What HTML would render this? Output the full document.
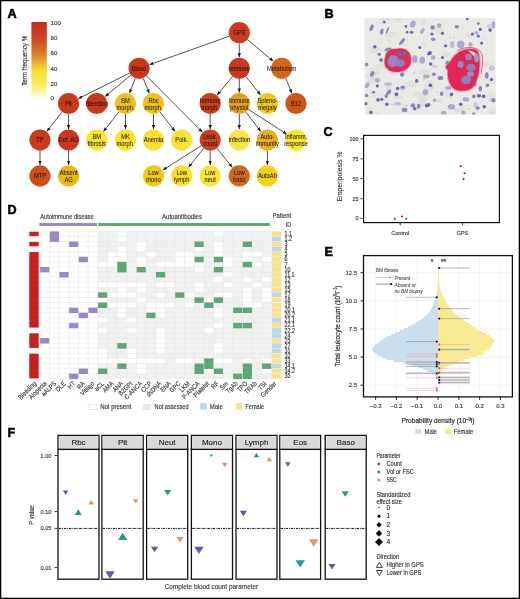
<!DOCTYPE html>
<html><head><meta charset="utf-8"><title>Figure</title>
<style>
html,body{margin:0;padding:0;background:#fff;}
body{width:520px;height:599px;overflow:hidden;}
svg{display:block;will-change:transform;font-family:"Liberation Sans", sans-serif;}
</style></head><body>
<svg width="520" height="599" viewBox="0 0 520 599">
<rect x="0" y="0" width="520" height="599" fill="#fff"/>
<text transform="translate(7.60 17.90) scale(1.0110 1)" font-size="12.6" text-anchor="start" fill="#000" font-weight="bold" stroke="#000" stroke-width="0.55">A</text>
<defs>
<linearGradient id="cb" x1="0" y1="0" x2="0" y2="1">
<stop offset="0" stop-color="#c52e1c"/>
<stop offset="0.2" stop-color="#cb4420"/>
<stop offset="0.4" stop-color="#d97a26"/>
<stop offset="0.54" stop-color="#ebbb2c"/>
<stop offset="0.63" stop-color="#f5e036"/>
<stop offset="0.8" stop-color="#f8ec5a"/>
<stop offset="1" stop-color="#fffef8"/>
</linearGradient>
<marker id="ah" viewBox="0 0 10 10" refX="10" refY="5" markerWidth="4.2" markerHeight="4.2" markerUnits="userSpaceOnUse" orient="auto"><path d="M0,1 L10,5 L0,9 z" fill="#1a1a1a"/></marker>
</defs>
<rect x="31.4" y="22" width="15.4" height="77.4" fill="url(#cb)"/>
<text transform="translate(50.60 24.70)" font-size="6.2" text-anchor="start" fill="#333" font-weight="normal" stroke="#333" stroke-width="0.13">100</text>
<text transform="translate(50.60 40.20)" font-size="6.2" text-anchor="start" fill="#333" font-weight="normal" stroke="#333" stroke-width="0.13">80</text>
<text transform="translate(50.60 55.20)" font-size="6.2" text-anchor="start" fill="#333" font-weight="normal" stroke="#333" stroke-width="0.13">60</text>
<text transform="translate(50.60 70.70)" font-size="6.2" text-anchor="start" fill="#333" font-weight="normal" stroke="#333" stroke-width="0.13">40</text>
<text transform="translate(50.60 86.20)" font-size="6.2" text-anchor="start" fill="#333" font-weight="normal" stroke="#333" stroke-width="0.13">20</text>
<text transform="translate(50.60 99.90)" font-size="6.2" text-anchor="start" fill="#333" font-weight="normal" stroke="#333" stroke-width="0.13">0</text>
<text transform="translate(26.90 60.80) rotate(-90) scale(0.8385 1)" font-size="7.4" text-anchor="middle" fill="#2a2a2a" font-weight="normal" stroke="#2a2a2a" stroke-width="0.13">Term frequency %</text>
<line x1="229.31" y1="36.25" x2="149.37" y2="64.65" stroke="#1a1a1a" stroke-width="0.75" marker-end="url(#ah)"/>
<line x1="239.30" y1="43.30" x2="239.30" y2="57.40" stroke="#1a1a1a" stroke-width="0.75" marker-end="url(#ah)"/>
<line x1="247.42" y1="39.52" x2="273.35" y2="61.29" stroke="#1a1a1a" stroke-width="0.75" marker-end="url(#ah)"/>
<line x1="129.62" y1="73.04" x2="78.35" y2="98.63" stroke="#1a1a1a" stroke-width="0.75" marker-end="url(#ah)"/>
<line x1="130.94" y1="75.07" x2="105.09" y2="96.54" stroke="#1a1a1a" stroke-width="0.75" marker-end="url(#ah)"/>
<line x1="135.28" y1="78.19" x2="129.43" y2="93.33" stroke="#1a1a1a" stroke-width="0.75" marker-end="url(#ah)"/>
<line x1="143.11" y1="78.11" x2="149.37" y2="93.41" stroke="#1a1a1a" stroke-width="0.75" marker-end="url(#ah)"/>
<line x1="146.56" y1="75.83" x2="202.53" y2="132.35" stroke="#1a1a1a" stroke-width="0.75" marker-end="url(#ah)"/>
<line x1="232.55" y1="76.47" x2="217.15" y2="95.10" stroke="#1a1a1a" stroke-width="0.75" marker-end="url(#ah)"/>
<line x1="239.30" y1="78.90" x2="239.30" y2="92.60" stroke="#1a1a1a" stroke-width="0.75" marker-end="url(#ah)"/>
<line x1="245.91" y1="76.58" x2="260.60" y2="94.98" stroke="#1a1a1a" stroke-width="0.75" marker-end="url(#ah)"/>
<line x1="285.69" y1="78.12" x2="291.90" y2="93.40" stroke="#1a1a1a" stroke-width="0.75" marker-end="url(#ah)"/>
<line x1="62.07" y1="111.85" x2="46.71" y2="131.51" stroke="#1a1a1a" stroke-width="0.75" marker-end="url(#ah)"/>
<line x1="68.60" y1="114.10" x2="68.60" y2="129.20" stroke="#1a1a1a" stroke-width="0.75" marker-end="url(#ah)"/>
<line x1="118.95" y1="111.83" x2="103.44" y2="131.53" stroke="#1a1a1a" stroke-width="0.75" marker-end="url(#ah)"/>
<line x1="125.50" y1="114.10" x2="125.50" y2="129.20" stroke="#1a1a1a" stroke-width="0.75" marker-end="url(#ah)"/>
<line x1="153.50" y1="114.10" x2="153.50" y2="129.20" stroke="#1a1a1a" stroke-width="0.75" marker-end="url(#ah)"/>
<line x1="159.97" y1="111.90" x2="175.05" y2="131.47" stroke="#1a1a1a" stroke-width="0.75" marker-end="url(#ah)"/>
<line x1="210.20" y1="114.10" x2="210.20" y2="129.20" stroke="#1a1a1a" stroke-width="0.75" marker-end="url(#ah)"/>
<line x1="239.30" y1="114.10" x2="239.30" y2="129.20" stroke="#1a1a1a" stroke-width="0.75" marker-end="url(#ah)"/>
<line x1="245.76" y1="111.91" x2="260.76" y2="131.45" stroke="#1a1a1a" stroke-width="0.75" marker-end="url(#ah)"/>
<line x1="248.21" y1="109.25" x2="286.84" y2="134.19" stroke="#1a1a1a" stroke-width="0.75" marker-end="url(#ah)"/>
<line x1="40.00" y1="150.70" x2="40.00" y2="165.00" stroke="#1a1a1a" stroke-width="0.75" marker-end="url(#ah)"/>
<line x1="68.60" y1="150.70" x2="68.60" y2="165.00" stroke="#1a1a1a" stroke-width="0.75" marker-end="url(#ah)"/>
<line x1="201.24" y1="145.76" x2="162.72" y2="170.08" stroke="#1a1a1a" stroke-width="0.75" marker-end="url(#ah)"/>
<line x1="203.60" y1="148.39" x2="188.49" y2="167.37" stroke="#1a1a1a" stroke-width="0.75" marker-end="url(#ah)"/>
<line x1="210.20" y1="150.70" x2="210.20" y2="165.00" stroke="#1a1a1a" stroke-width="0.75" marker-end="url(#ah)"/>
<line x1="216.89" y1="148.33" x2="232.42" y2="167.44" stroke="#1a1a1a" stroke-width="0.75" marker-end="url(#ah)"/>
<line x1="267.40" y1="150.70" x2="267.40" y2="165.00" stroke="#1a1a1a" stroke-width="0.75" marker-end="url(#ah)"/>
<circle cx="239.3" cy="32.7" r="10.6" fill="#cc3a1f"/>
<text transform="translate(239.30 35.00) scale(0.9000 1)" font-size="6.4" text-anchor="middle" fill="#1e130c" font-weight="normal" stroke="#1e130c" stroke-width="0.04">GPS</text>
<circle cx="139.1" cy="68.3" r="10.6" fill="#c9381c"/>
<text transform="translate(139.10 70.60) scale(0.9000 1)" font-size="6.4" text-anchor="middle" fill="#1e130c" font-weight="normal" stroke="#1e130c" stroke-width="0.04">Blood</text>
<circle cx="239.3" cy="68.3" r="10.6" fill="#c9391c"/>
<text transform="translate(239.30 70.60) scale(0.9000 1)" font-size="6.4" text-anchor="middle" fill="#1e130c" font-weight="normal" stroke="#1e130c" stroke-width="0.04">Immune</text>
<circle cx="281.7" cy="68.3" r="10.6" fill="#d8641a"/>
<text transform="translate(281.70 70.60) scale(0.9000 1)" font-size="6.4" text-anchor="middle" fill="#1e130c" font-weight="normal" stroke="#1e130c" stroke-width="0.04">Metabolism</text>
<circle cx="68.6" cy="103.5" r="10.6" fill="#c9381c"/>
<text transform="translate(68.60 105.80) scale(0.9000 1)" font-size="6.4" text-anchor="middle" fill="#1e130c" font-weight="normal" stroke="#1e130c" stroke-width="0.04">Plt</text>
<circle cx="96.7" cy="103.5" r="10.6" fill="#c9381c"/>
<text transform="translate(96.70 105.80) scale(0.9000 1)" font-size="6.4" text-anchor="middle" fill="#1e130c" font-weight="normal" stroke="#1e130c" stroke-width="0.04">Bleeding</text>
<circle cx="125.5" cy="103.5" r="10.6" fill="#ecc11b"/>
<text transform="translate(125.50 102.70) scale(0.9000 1)" font-size="6.4" text-anchor="middle" fill="#1e130c" font-weight="normal" stroke="#1e130c" stroke-width="0.04">BM</text>
<text transform="translate(125.50 109.70) scale(0.9000 1)" font-size="6.4" text-anchor="middle" fill="#1e130c" font-weight="normal" stroke="#1e130c" stroke-width="0.04">morph.</text>
<circle cx="153.5" cy="103.5" r="10.6" fill="#ecc11b"/>
<text transform="translate(153.50 102.70) scale(0.9000 1)" font-size="6.4" text-anchor="middle" fill="#1e130c" font-weight="normal" stroke="#1e130c" stroke-width="0.04">Rbc</text>
<text transform="translate(153.50 109.70) scale(0.9000 1)" font-size="6.4" text-anchor="middle" fill="#1e130c" font-weight="normal" stroke="#1e130c" stroke-width="0.04">morph.</text>
<circle cx="210.2" cy="103.5" r="10.6" fill="#c9401b"/>
<text transform="translate(210.20 102.70) scale(0.9000 1)" font-size="6.4" text-anchor="middle" fill="#1e130c" font-weight="normal" stroke="#1e130c" stroke-width="0.04">Immune</text>
<text transform="translate(210.20 109.70) scale(0.9000 1)" font-size="6.4" text-anchor="middle" fill="#1e130c" font-weight="normal" stroke="#1e130c" stroke-width="0.04">morph.</text>
<circle cx="239.3" cy="103.5" r="10.6" fill="#e3a11d"/>
<text transform="translate(239.30 102.70) scale(0.9000 1)" font-size="6.4" text-anchor="middle" fill="#1e130c" font-weight="normal" stroke="#1e130c" stroke-width="0.04">Immune</text>
<text transform="translate(239.30 109.70) scale(0.9000 1)" font-size="6.4" text-anchor="middle" fill="#1e130c" font-weight="normal" stroke="#1e130c" stroke-width="0.04">physiol</text>
<circle cx="267.4" cy="103.5" r="10.6" fill="#f0c91b"/>
<text transform="translate(267.40 102.70) scale(0.9000 1)" font-size="6.4" text-anchor="middle" fill="#1e130c" font-weight="normal" stroke="#1e130c" stroke-width="0.04">Spleno-</text>
<text transform="translate(267.40 109.70) scale(0.9000 1)" font-size="6.4" text-anchor="middle" fill="#1e130c" font-weight="normal" stroke="#1e130c" stroke-width="0.04">megaly</text>
<circle cx="296" cy="103.5" r="10.6" fill="#cf5419"/>
<text transform="translate(296.00 105.80) scale(0.9000 1)" font-size="6.4" text-anchor="middle" fill="#1e130c" font-weight="normal" stroke="#1e130c" stroke-width="0.04">B12</text>
<circle cx="40" cy="140.1" r="10.6" fill="#c9381c"/>
<text transform="translate(40.00 142.40) scale(0.9000 1)" font-size="6.4" text-anchor="middle" fill="#1e130c" font-weight="normal" stroke="#1e130c" stroke-width="0.04">TP</text>
<circle cx="68.6" cy="140.1" r="10.6" fill="#c9381c"/>
<text transform="translate(68.60 142.40) scale(0.9000 1)" font-size="6.4" text-anchor="middle" fill="#1e130c" font-weight="normal" stroke="#1e130c" stroke-width="0.04">Def. AG</text>
<circle cx="96.7" cy="140.1" r="10.6" fill="#f8e52b"/>
<text transform="translate(96.70 139.30) scale(0.9000 1)" font-size="6.4" text-anchor="middle" fill="#1e130c" font-weight="normal" stroke="#1e130c" stroke-width="0.04">BM</text>
<text transform="translate(96.70 146.30) scale(0.9000 1)" font-size="6.4" text-anchor="middle" fill="#1e130c" font-weight="normal" stroke="#1e130c" stroke-width="0.04">fibrosis</text>
<circle cx="125.5" cy="140.1" r="10.6" fill="#f8e52b"/>
<text transform="translate(125.50 139.30) scale(0.9000 1)" font-size="6.4" text-anchor="middle" fill="#1e130c" font-weight="normal" stroke="#1e130c" stroke-width="0.04">MK</text>
<text transform="translate(125.50 146.30) scale(0.9000 1)" font-size="6.4" text-anchor="middle" fill="#1e130c" font-weight="normal" stroke="#1e130c" stroke-width="0.04">morph.</text>
<circle cx="153.5" cy="140.1" r="10.6" fill="#f6e12b"/>
<text transform="translate(153.50 142.40) scale(0.9000 1)" font-size="6.4" text-anchor="middle" fill="#1e130c" font-weight="normal" stroke="#1e130c" stroke-width="0.04">Anemia</text>
<circle cx="181.7" cy="140.1" r="10.6" fill="#f8e42f"/>
<text transform="translate(181.70 142.40) scale(0.9000 1)" font-size="6.4" text-anchor="middle" fill="#1e130c" font-weight="normal" stroke="#1e130c" stroke-width="0.04">Poik.</text>
<circle cx="210.2" cy="140.1" r="10.6" fill="#c9421c"/>
<text transform="translate(210.20 139.30) scale(0.9000 1)" font-size="6.4" text-anchor="middle" fill="#1e130c" font-weight="normal" stroke="#1e130c" stroke-width="0.04">Leuk.</text>
<text transform="translate(210.20 146.30) scale(0.9000 1)" font-size="6.4" text-anchor="middle" fill="#1e130c" font-weight="normal" stroke="#1e130c" stroke-width="0.04">count</text>
<circle cx="239.3" cy="140.1" r="10.6" fill="#f6e44a"/>
<text transform="translate(239.30 142.40) scale(0.9000 1)" font-size="6.4" text-anchor="middle" fill="#1e130c" font-weight="normal" stroke="#1e130c" stroke-width="0.04">Infection</text>
<circle cx="267.4" cy="140.1" r="10.6" fill="#e8b121"/>
<text transform="translate(267.40 139.30) scale(0.9000 1)" font-size="6.4" text-anchor="middle" fill="#1e130c" font-weight="normal" stroke="#1e130c" stroke-width="0.04">Auto-</text>
<text transform="translate(267.40 146.30) scale(0.9000 1)" font-size="6.4" text-anchor="middle" fill="#1e130c" font-weight="normal" stroke="#1e130c" stroke-width="0.04">immunity</text>
<circle cx="296" cy="140.1" r="10.6" fill="#f8e82b"/>
<text transform="translate(296.00 139.30) scale(0.9000 1)" font-size="6.4" text-anchor="middle" fill="#1e130c" font-weight="normal" stroke="#1e130c" stroke-width="0.04">Inflamm.</text>
<text transform="translate(296.00 146.30) scale(0.9000 1)" font-size="6.4" text-anchor="middle" fill="#1e130c" font-weight="normal" stroke="#1e130c" stroke-width="0.04">response</text>
<circle cx="40" cy="175.9" r="10.6" fill="#cd4d1c"/>
<text transform="translate(40.00 178.20) scale(0.9000 1)" font-size="6.4" text-anchor="middle" fill="#1e130c" font-weight="normal" stroke="#1e130c" stroke-width="0.04">MTP</text>
<circle cx="68.6" cy="175.9" r="10.6" fill="#eab919"/>
<text transform="translate(68.60 175.10) scale(0.9000 1)" font-size="6.4" text-anchor="middle" fill="#1e130c" font-weight="normal" stroke="#1e130c" stroke-width="0.04">Absent</text>
<text transform="translate(68.60 182.10) scale(0.9000 1)" font-size="6.4" text-anchor="middle" fill="#1e130c" font-weight="normal" stroke="#1e130c" stroke-width="0.04">AG</text>
<circle cx="153.5" cy="175.9" r="10.6" fill="#f0c817"/>
<text transform="translate(153.50 175.10) scale(0.9000 1)" font-size="6.4" text-anchor="middle" fill="#1e130c" font-weight="normal" stroke="#1e130c" stroke-width="0.04">Low</text>
<text transform="translate(153.50 182.10) scale(0.9000 1)" font-size="6.4" text-anchor="middle" fill="#1e130c" font-weight="normal" stroke="#1e130c" stroke-width="0.04">mono</text>
<circle cx="181.7" cy="175.9" r="10.6" fill="#f8e22b"/>
<text transform="translate(181.70 175.10) scale(0.9000 1)" font-size="6.4" text-anchor="middle" fill="#1e130c" font-weight="normal" stroke="#1e130c" stroke-width="0.04">Low</text>
<text transform="translate(181.70 182.10) scale(0.9000 1)" font-size="6.4" text-anchor="middle" fill="#1e130c" font-weight="normal" stroke="#1e130c" stroke-width="0.04">lymph</text>
<circle cx="210.2" cy="175.9" r="10.6" fill="#f8e439"/>
<text transform="translate(210.20 175.10) scale(0.9000 1)" font-size="6.4" text-anchor="middle" fill="#1e130c" font-weight="normal" stroke="#1e130c" stroke-width="0.04">Low</text>
<text transform="translate(210.20 182.10) scale(0.9000 1)" font-size="6.4" text-anchor="middle" fill="#1e130c" font-weight="normal" stroke="#1e130c" stroke-width="0.04">neut</text>
<circle cx="239.3" cy="175.9" r="10.6" fill="#cf6a1b"/>
<text transform="translate(239.30 175.10) scale(0.9000 1)" font-size="6.4" text-anchor="middle" fill="#1e130c" font-weight="normal" stroke="#1e130c" stroke-width="0.04">Low</text>
<text transform="translate(239.30 182.10) scale(0.9000 1)" font-size="6.4" text-anchor="middle" fill="#1e130c" font-weight="normal" stroke="#1e130c" stroke-width="0.04">baso</text>
<circle cx="267.4" cy="175.9" r="10.6" fill="#f3d21b"/>
<text transform="translate(267.40 178.20) scale(0.9000 1)" font-size="6.4" text-anchor="middle" fill="#1e130c" font-weight="normal" stroke="#1e130c" stroke-width="0.04">AutoAb</text>
<text transform="translate(324.40 18.10)" font-size="12.6" text-anchor="start" fill="#000" font-weight="bold" stroke="#000" stroke-width="0.55">B</text>
<clipPath id="bclip"><rect x="364.5" y="18" width="131.3" height="96.5"/></clipPath>
<filter id="bblur" x="-5%" y="-5%" width="110%" height="110%"><feGaussianBlur stdDeviation="0.5"/></filter>
<g clip-path="url(#bclip)"><g filter="url(#bblur)">
<rect x="362.5" y="16" width="135.3" height="100.5" fill="#eae9e5"/>
<ellipse cx="423.9" cy="72.0" rx="6.6" ry="2.4" fill="#dcd9d3" opacity="0.5"/>
<ellipse cx="431.2" cy="74.7" rx="2.9" ry="2.5" fill="#dcd9d3" opacity="0.5"/>
<ellipse cx="447.2" cy="94.5" rx="2.5" ry="1.9" fill="#dcd9d3" opacity="0.5"/>
<ellipse cx="376.4" cy="96.1" rx="5.5" ry="1.1" fill="#dcd9d3" opacity="0.5"/>
<ellipse cx="493.5" cy="111.1" rx="5.3" ry="2.8" fill="#dcd9d3" opacity="0.5"/>
<ellipse cx="385.2" cy="19.4" rx="4.6" ry="1.2" fill="#dcd9d3" opacity="0.5"/>
<ellipse cx="389.5" cy="41.3" rx="2.2" ry="2.4" fill="#dcd9d3" opacity="0.5"/>
<ellipse cx="422.3" cy="99.3" rx="4.6" ry="2.9" fill="#dcd9d3" opacity="0.5"/>
<ellipse cx="430.1" cy="81.9" rx="4.3" ry="1.8" fill="#dcd9d3" opacity="0.5"/>
<ellipse cx="495.5" cy="114.1" rx="6.2" ry="3.1" fill="#dcd9d3" opacity="0.5"/>
<ellipse cx="405.9" cy="40.2" rx="3.4" ry="1.2" fill="#dcd9d3" opacity="0.5"/>
<ellipse cx="465.1" cy="56.6" rx="6.2" ry="2.2" fill="#dcd9d3" opacity="0.5"/>
<ellipse cx="490.3" cy="99.8" rx="2.0" ry="1.6" fill="#dcd9d3" opacity="0.5"/>
<ellipse cx="484.0" cy="63.4" rx="6.9" ry="2.2" fill="#dcd9d3" opacity="0.5"/>
<ellipse cx="374.1" cy="78.7" rx="5.9" ry="1.8" fill="#dcd9d3" opacity="0.5"/>
<ellipse cx="375.9" cy="50.1" rx="6.8" ry="3.3" fill="#dcd9d3" opacity="0.5"/>
<ellipse cx="380.0" cy="41.8" rx="2.5" ry="1.2" fill="#dcd9d3" opacity="0.5"/>
<ellipse cx="469.1" cy="35.1" rx="4.8" ry="2.3" fill="#dcd9d3" opacity="0.5"/>
<ellipse cx="389.5" cy="88.6" rx="2.7" ry="2.9" fill="#dcd9d3" opacity="0.5"/>
<ellipse cx="379.8" cy="58.6" rx="3.1" ry="1.8" fill="#dcd9d3" opacity="0.5"/>
<ellipse cx="492.0" cy="95.5" rx="3.5" ry="3.7" fill="#dcd9d3" opacity="0.5"/>
<ellipse cx="392.2" cy="56.0" rx="6.3" ry="2.9" fill="#dcd9d3" opacity="0.5"/>
<ellipse cx="377.7" cy="113.5" rx="3.1" ry="1.8" fill="#dcd9d3" opacity="0.5"/>
<ellipse cx="466.0" cy="49.7" rx="3.5" ry="1.2" fill="#dcd9d3" opacity="0.5"/>
<ellipse cx="376.3" cy="74.2" rx="3.2" ry="2.8" fill="#dcd9d3" opacity="0.5"/>
<ellipse cx="413.3" cy="61.7" rx="6.8" ry="2.5" fill="#dcd9d3" opacity="0.5"/>
<ellipse cx="439.9" cy="101.6" rx="2.9" ry="1.5" fill="#dcd9d3" opacity="0.5"/>
<ellipse cx="483.8" cy="96.9" rx="3.2" ry="1.6" fill="#dcd9d3" opacity="0.5"/>
<ellipse cx="461.6" cy="108.7" rx="3.0" ry="3.9" fill="#dcd9d3" opacity="0.5"/>
<ellipse cx="480.3" cy="76.2" rx="4.1" ry="1.3" fill="#dcd9d3" opacity="0.5"/>
<ellipse cx="369.6" cy="110.9" rx="3.2" ry="3.1" fill="#dcd9d3" opacity="0.5"/>
<ellipse cx="398.2" cy="97.5" rx="5.0" ry="1.9" fill="#dcd9d3" opacity="0.5"/>
<ellipse cx="387.5" cy="87.5" rx="2.3" ry="1.7" fill="#dcd9d3" opacity="0.5"/>
<ellipse cx="437.9" cy="100.3" rx="5.1" ry="1.8" fill="#dcd9d3" opacity="0.5"/>
<ellipse cx="484.9" cy="37.7" rx="2.1" ry="1.8" fill="#dcd9d3" opacity="0.5"/>
<ellipse cx="423.0" cy="23.8" rx="2.9" ry="2.1" fill="#dcd9d3" opacity="0.5"/>
<ellipse cx="439.6" cy="30.7" rx="3.8" ry="3.7" fill="#dcd9d3" opacity="0.5"/>
<ellipse cx="493.2" cy="81.4" rx="5.5" ry="2.8" fill="#dcd9d3" opacity="0.5"/>
<ellipse cx="382.9" cy="21.4" rx="2.1" ry="3.7" fill="#dcd9d3" opacity="0.5"/>
<ellipse cx="456.5" cy="110.9" rx="2.1" ry="2.9" fill="#dcd9d3" opacity="0.5"/>
<ellipse cx="427.8" cy="88.5" rx="3.6" ry="4.0" fill="#dcd9d3" opacity="0.5"/>
<ellipse cx="374.4" cy="70.7" rx="5.7" ry="3.7" fill="#dcd9d3" opacity="0.5"/>
<ellipse cx="461.3" cy="85.9" rx="6.0" ry="3.7" fill="#dcd9d3" opacity="0.5"/>
<ellipse cx="410.7" cy="84.1" rx="6.5" ry="3.6" fill="#dcd9d3" opacity="0.5"/>
<ellipse cx="419.3" cy="94.3" rx="6.3" ry="2.7" fill="#dcd9d3" opacity="0.5"/>
<ellipse cx="446.6" cy="54.9" rx="4.9" ry="2.8" fill="#dcd9d3" opacity="0.5"/>
<ellipse cx="375.0" cy="79.7" rx="7.0" ry="3.6" fill="#dcd9d3" opacity="0.5"/>
<ellipse cx="460.1" cy="55.5" rx="5.7" ry="2.7" fill="#dcd9d3" opacity="0.5"/>
<ellipse cx="422.3" cy="98.9" rx="2.4" ry="3.3" fill="#dcd9d3" opacity="0.5"/>
<ellipse cx="368.4" cy="76.0" rx="4.4" ry="1.7" fill="#dcd9d3" opacity="0.5"/>
<ellipse cx="456.2" cy="66.0" rx="5.1" ry="3.8" fill="#dcd9d3" opacity="0.5"/>
<ellipse cx="398.1" cy="19.1" rx="3.5" ry="3.0" fill="#dcd9d3" opacity="0.5"/>
<ellipse cx="391.1" cy="34.4" rx="6.5" ry="3.0" fill="#dcd9d3" opacity="0.5"/>
<ellipse cx="422.5" cy="104.1" rx="3.6" ry="3.0" fill="#dcd9d3" opacity="0.5"/>
<ellipse cx="390.6" cy="59.6" rx="6.0" ry="3.7" fill="#dcd9d3" opacity="0.5"/>
<ellipse cx="480.1" cy="55.1" rx="4.9" ry="1.9" fill="#dcd9d3" opacity="0.5"/>
<ellipse cx="382.4" cy="65.9" rx="6.2" ry="3.5" fill="#dcd9d3" opacity="0.5"/>
<ellipse cx="457.9" cy="109.7" rx="3.4" ry="1.5" fill="#dcd9d3" opacity="0.5"/>
<ellipse cx="423.7" cy="44.6" rx="3.1" ry="2.2" fill="#dcd9d3" opacity="0.5"/>
<ellipse cx="446.7" cy="65.7" rx="3.6" ry="3.5" fill="#dcd9d3" opacity="0.5"/>
<circle cx="493.4" cy="61.7" r="0.6" fill="#c9b995" opacity="0.55"/>
<circle cx="368.6" cy="102.2" r="0.5" fill="#c9b995" opacity="0.55"/>
<circle cx="457.5" cy="73.1" r="0.7" fill="#c9b995" opacity="0.55"/>
<circle cx="468.4" cy="19.8" r="0.6" fill="#c9b995" opacity="0.55"/>
<circle cx="424.2" cy="20.4" r="1.2" fill="#c9b995" opacity="0.55"/>
<circle cx="395.7" cy="31.6" r="0.5" fill="#c9b995" opacity="0.55"/>
<circle cx="447.1" cy="61.1" r="1.0" fill="#c9b995" opacity="0.55"/>
<circle cx="450.5" cy="95.9" r="1.3" fill="#c9b995" opacity="0.55"/>
<circle cx="454.4" cy="37.2" r="0.9" fill="#c9b995" opacity="0.55"/>
<circle cx="388.0" cy="19.0" r="0.9" fill="#c9b995" opacity="0.55"/>
<circle cx="458.3" cy="35.3" r="0.7" fill="#c9b995" opacity="0.55"/>
<circle cx="409.9" cy="85.3" r="0.9" fill="#c9b995" opacity="0.55"/>
<circle cx="445.2" cy="91.0" r="0.8" fill="#c9b995" opacity="0.55"/>
<circle cx="468.5" cy="105.5" r="0.6" fill="#c9b995" opacity="0.55"/>
<circle cx="487.0" cy="87.7" r="0.6" fill="#c9b995" opacity="0.55"/>
<circle cx="424.0" cy="78.4" r="1.2" fill="#c9b995" opacity="0.55"/>
<circle cx="414.0" cy="72.9" r="1.2" fill="#c9b995" opacity="0.55"/>
<circle cx="469.1" cy="109.1" r="0.9" fill="#c9b995" opacity="0.55"/>
<circle cx="450.0" cy="37.8" r="1.1" fill="#c9b995" opacity="0.55"/>
<circle cx="471.9" cy="79.9" r="1.1" fill="#c9b995" opacity="0.55"/>
<circle cx="392.5" cy="104.8" r="1.3" fill="#c9b995" opacity="0.55"/>
<circle cx="492.8" cy="69.8" r="1.1" fill="#c9b995" opacity="0.55"/>
<circle cx="406.6" cy="105.8" r="1.2" fill="#c9b995" opacity="0.55"/>
<circle cx="410.3" cy="26.0" r="0.9" fill="#c9b995" opacity="0.55"/>
<circle cx="436.8" cy="92.1" r="0.9" fill="#c9b995" opacity="0.55"/>
<circle cx="368.2" cy="96.1" r="0.6" fill="#c9b995" opacity="0.55"/>
<circle cx="469.5" cy="34.7" r="0.8" fill="#c9b995" opacity="0.55"/>
<circle cx="468.0" cy="31.6" r="0.6" fill="#c9b995" opacity="0.55"/>
<circle cx="432.3" cy="87.8" r="1.2" fill="#c9b995" opacity="0.55"/>
<circle cx="455.0" cy="109.3" r="0.9" fill="#c9b995" opacity="0.55"/>
<ellipse cx="489.1" cy="26.3" rx="2.4" ry="2.3" fill="#c2c2da" opacity="0.7"/>
<ellipse cx="402.6" cy="88.3" rx="3.3" ry="2.3" fill="#c2c2da" opacity="0.7"/>
<ellipse cx="475.5" cy="104.9" rx="2.4" ry="2.8" fill="#c2c2da" opacity="0.7"/>
<ellipse cx="491.7" cy="68.6" rx="3.1" ry="1.8" fill="#c2c2da" opacity="0.7"/>
<ellipse cx="434.9" cy="66.6" rx="3.2" ry="1.5" fill="#c2c2da" opacity="0.7"/>
<ellipse cx="491.8" cy="67.8" rx="2.8" ry="2.7" fill="#c2c2da" opacity="0.7"/>
<ellipse cx="371.6" cy="27.8" rx="1.62" ry="3.60" fill="#8080b9" opacity="0.92" transform="rotate(20 371.6 27.8)"/>
<ellipse cx="384.3" cy="22.1" rx="1.35" ry="1.35" fill="#6262a6" opacity="0.92"/>
<ellipse cx="381.8" cy="31.6" rx="1.62" ry="3.15" fill="#8080b9" opacity="0.92" transform="rotate(10 381.8 31.6)"/>
<ellipse cx="387.5" cy="30.3" rx="0.90" ry="3.60" fill="#8080b9" opacity="0.92" transform="rotate(20 387.5 30.3)"/>
<ellipse cx="405.9" cy="26.5" rx="1.35" ry="1.44" fill="#6262a6" opacity="0.92"/>
<ellipse cx="407.1" cy="32.2" rx="1.35" ry="1.35" fill="#6262a6" opacity="0.92"/>
<ellipse cx="411.6" cy="32.2" rx="1.80" ry="1.53" fill="#6262a6" opacity="0.92"/>
<ellipse cx="412.9" cy="24.0" rx="2.70" ry="3.60" fill="#a4a4cb" opacity="0.92" transform="rotate(15 412.9 24.0)"/>
<ellipse cx="422.4" cy="31.0" rx="1.80" ry="3.15" fill="#a4a4cb" opacity="0.92" transform="rotate(30 422.4 31.0)"/>
<ellipse cx="402.0" cy="41.7" rx="1.62" ry="4.05" fill="#8080b9" opacity="0.92" transform="rotate(40 402.0 41.7)"/>
<ellipse cx="374.8" cy="46.8" rx="1.80" ry="1.80" fill="#6262a6" opacity="0.92"/>
<ellipse cx="388.1" cy="49.4" rx="3.60" ry="1.62" fill="#8080b9" opacity="0.92" transform="rotate(-15 388.1 49.4)"/>
<ellipse cx="379.2" cy="54.4" rx="1.62" ry="1.44" fill="#6262a6" opacity="0.92"/>
<ellipse cx="381.1" cy="60.1" rx="1.80" ry="1.80" fill="#6262a6" opacity="0.92"/>
<ellipse cx="366.5" cy="64.6" rx="1.80" ry="1.80" fill="#8080b9" opacity="0.92"/>
<ellipse cx="419.8" cy="47.5" rx="1.62" ry="1.62" fill="#6262a6" opacity="0.92"/>
<ellipse cx="414.8" cy="58.9" rx="2.70" ry="3.60" fill="#a4a4cb" opacity="0.92"/>
<ellipse cx="422.4" cy="60.1" rx="2.70" ry="3.60" fill="#a4a4cb" opacity="0.92"/>
<ellipse cx="428.7" cy="53.8" rx="1.62" ry="1.62" fill="#6262a6" opacity="0.92"/>
<ellipse cx="432.6" cy="27.5" rx="2.25" ry="2.25" fill="#8080b9" opacity="0.92"/>
<ellipse cx="439.1" cy="25.5" rx="2.25" ry="2.25" fill="#a4a4cb" opacity="0.92"/>
<ellipse cx="431.9" cy="34.0" rx="1.62" ry="1.62" fill="#6262a6" opacity="0.92"/>
<ellipse cx="433.2" cy="39.2" rx="2.25" ry="1.80" fill="#8080b9" opacity="0.92"/>
<ellipse cx="442.4" cy="33.3" rx="1.62" ry="1.62" fill="#6262a6" opacity="0.92"/>
<ellipse cx="456.8" cy="26.8" rx="2.25" ry="1.80" fill="#8080b9" opacity="0.92"/>
<ellipse cx="467.2" cy="19.0" rx="1.35" ry="1.35" fill="#6262a6" opacity="0.92"/>
<ellipse cx="478.3" cy="23.5" rx="1.35" ry="1.35" fill="#6262a6" opacity="0.92"/>
<ellipse cx="480.3" cy="29.4" rx="1.62" ry="1.62" fill="#6262a6" opacity="0.92"/>
<ellipse cx="472.4" cy="34.0" rx="1.62" ry="1.62" fill="#6262a6" opacity="0.92"/>
<ellipse cx="478.3" cy="36.0" rx="1.62" ry="1.62" fill="#6262a6" opacity="0.92"/>
<ellipse cx="476.4" cy="32.7" rx="1.80" ry="1.80" fill="#a4a4cb" opacity="0.92"/>
<ellipse cx="490.1" cy="30.1" rx="1.80" ry="1.80" fill="#6262a6" opacity="0.92"/>
<ellipse cx="460.7" cy="44.5" rx="3.60" ry="4.05" fill="#a4a4cb" opacity="0.92"/>
<ellipse cx="452.2" cy="44.5" rx="2.25" ry="3.60" fill="#b8b8d6" opacity="0.92"/>
<ellipse cx="470.5" cy="44.5" rx="2.25" ry="2.25" fill="#a4a4cb" opacity="0.92"/>
<ellipse cx="445.6" cy="45.8" rx="1.62" ry="1.62" fill="#6262a6" opacity="0.92"/>
<ellipse cx="481.6" cy="43.1" rx="1.62" ry="1.62" fill="#6262a6" opacity="0.92"/>
<ellipse cx="430.0" cy="53.0" rx="1.98" ry="1.98" fill="#6262a6" opacity="0.92"/>
<ellipse cx="433.2" cy="57.5" rx="2.25" ry="2.25" fill="#a4a4cb" opacity="0.92"/>
<ellipse cx="442.4" cy="57.5" rx="1.62" ry="1.62" fill="#6262a6" opacity="0.92"/>
<ellipse cx="447.6" cy="62.8" rx="2.25" ry="1.80" fill="#8080b9" opacity="0.92"/>
<ellipse cx="430.6" cy="64.0" rx="1.80" ry="1.80" fill="#6262a6" opacity="0.92"/>
<ellipse cx="493.4" cy="24.8" rx="1.80" ry="3.60" fill="#a4a4cb" opacity="0.92"/>
<ellipse cx="372.2" cy="73.9" rx="1.98" ry="2.88" fill="#8080b9" opacity="0.92" transform="rotate(20 372.2 73.9)"/>
<ellipse cx="377.3" cy="80.2" rx="2.25" ry="2.25" fill="#a4a4cb" opacity="0.92"/>
<ellipse cx="367.2" cy="85.3" rx="1.98" ry="3.15" fill="#a4a4cb" opacity="0.92" transform="rotate(30 367.2 85.3)"/>
<ellipse cx="377.3" cy="85.9" rx="1.62" ry="1.62" fill="#6262a6" opacity="0.92"/>
<ellipse cx="388.1" cy="84.0" rx="4.05" ry="1.80" fill="#b8b8d6" opacity="0.92"/>
<ellipse cx="402.1" cy="74.5" rx="2.25" ry="2.25" fill="#8080b9" opacity="0.92"/>
<ellipse cx="416.7" cy="80.9" rx="1.80" ry="1.80" fill="#6262a6" opacity="0.92"/>
<ellipse cx="426.2" cy="76.4" rx="3.15" ry="1.80" fill="#a4a4cb" opacity="0.92"/>
<ellipse cx="397.6" cy="88.5" rx="1.80" ry="1.80" fill="#6262a6" opacity="0.92"/>
<ellipse cx="402.7" cy="87.2" rx="2.16" ry="1.62" fill="#8080b9" opacity="0.92"/>
<ellipse cx="396.4" cy="94.2" rx="1.98" ry="1.98" fill="#6262a6" opacity="0.92"/>
<ellipse cx="388.7" cy="92.3" rx="1.80" ry="3.15" fill="#8080b9" opacity="0.92" transform="rotate(40 388.7 92.3)"/>
<ellipse cx="386.2" cy="96.1" rx="1.80" ry="1.80" fill="#8080b9" opacity="0.92"/>
<ellipse cx="378.0" cy="99.9" rx="1.80" ry="1.80" fill="#6262a6" opacity="0.92"/>
<ellipse cx="381.8" cy="99.3" rx="1.62" ry="1.62" fill="#6262a6" opacity="0.92"/>
<ellipse cx="366.5" cy="95.5" rx="1.80" ry="1.80" fill="#8080b9" opacity="0.92"/>
<ellipse cx="373.5" cy="92.3" rx="1.80" ry="1.35" fill="#8080b9" opacity="0.92"/>
<ellipse cx="386.8" cy="104.3" rx="1.80" ry="1.80" fill="#6262a6" opacity="0.92"/>
<ellipse cx="365.9" cy="103.7" rx="1.62" ry="1.62" fill="#6262a6" opacity="0.92"/>
<ellipse cx="371.0" cy="112.6" rx="1.80" ry="1.80" fill="#6262a6" opacity="0.92"/>
<ellipse cx="397.6" cy="103.7" rx="3.60" ry="1.80" fill="#b8b8d6" opacity="0.92"/>
<ellipse cx="404.6" cy="110.0" rx="2.70" ry="2.25" fill="#8080b9" opacity="0.92"/>
<ellipse cx="412.9" cy="105.6" rx="2.25" ry="2.25" fill="#8080b9" opacity="0.92"/>
<ellipse cx="414.8" cy="108.8" rx="1.80" ry="1.80" fill="#6262a6" opacity="0.92"/>
<ellipse cx="418.6" cy="106.2" rx="1.80" ry="2.70" fill="#8080b9" opacity="0.92"/>
<ellipse cx="425.5" cy="92.3" rx="2.70" ry="3.15" fill="#a4a4cb" opacity="0.92"/>
<ellipse cx="426.8" cy="105.6" rx="1.98" ry="1.98" fill="#6262a6" opacity="0.92"/>
<ellipse cx="430.0" cy="85.3" rx="1.35" ry="1.35" fill="#6262a6" opacity="0.92"/>
<ellipse cx="440.4" cy="78.1" rx="2.70" ry="2.25" fill="#8080b9" opacity="0.92"/>
<ellipse cx="430.6" cy="85.3" rx="1.80" ry="1.80" fill="#6262a6" opacity="0.92"/>
<ellipse cx="433.9" cy="74.2" rx="1.80" ry="1.80" fill="#8080b9" opacity="0.92"/>
<ellipse cx="448.3" cy="87.9" rx="3.15" ry="1.80" fill="#a4a4cb" opacity="0.92"/>
<ellipse cx="451.5" cy="94.4" rx="1.80" ry="1.80" fill="#6262a6" opacity="0.92"/>
<ellipse cx="441.7" cy="93.8" rx="1.80" ry="2.25" fill="#8080b9" opacity="0.92"/>
<ellipse cx="474.4" cy="84.6" rx="2.25" ry="1.80" fill="#8080b9" opacity="0.92"/>
<ellipse cx="480.3" cy="88.5" rx="1.80" ry="2.70" fill="#8080b9" opacity="0.92"/>
<ellipse cx="486.8" cy="75.5" rx="1.80" ry="3.15" fill="#8080b9" opacity="0.92"/>
<ellipse cx="491.4" cy="79.4" rx="1.62" ry="1.62" fill="#6262a6" opacity="0.92"/>
<ellipse cx="487.5" cy="85.3" rx="1.80" ry="1.80" fill="#8080b9" opacity="0.92"/>
<ellipse cx="473.8" cy="96.4" rx="1.80" ry="1.80" fill="#8080b9" opacity="0.92"/>
<ellipse cx="479.0" cy="95.7" rx="2.25" ry="1.80" fill="#6262a6" opacity="0.92"/>
<ellipse cx="483.6" cy="96.4" rx="1.80" ry="1.80" fill="#6262a6" opacity="0.92"/>
<ellipse cx="465.9" cy="99.6" rx="3.15" ry="2.25" fill="#a4a4cb" opacity="0.92"/>
<ellipse cx="460.7" cy="104.2" rx="1.80" ry="1.80" fill="#6262a6" opacity="0.92"/>
<ellipse cx="451.5" cy="106.8" rx="3.60" ry="2.70" fill="#a4a4cb" opacity="0.92"/>
<ellipse cx="428.7" cy="104.9" rx="1.80" ry="1.80" fill="#6262a6" opacity="0.92"/>
<ellipse cx="434.5" cy="100.3" rx="1.80" ry="1.80" fill="#a4a4cb" opacity="0.92"/>
<ellipse cx="477.7" cy="108.1" rx="2.25" ry="1.80" fill="#8080b9" opacity="0.92"/>
<ellipse cx="484.2" cy="106.8" rx="1.80" ry="1.80" fill="#6262a6" opacity="0.92"/>
<ellipse cx="493.4" cy="100.3" rx="2.25" ry="2.25" fill="#8080b9" opacity="0.92"/>
<ellipse cx="463.3" cy="112.7" rx="2.25" ry="2.25" fill="#a4a4cb" opacity="0.92"/>
<ellipse cx="473.8" cy="114.0" rx="1.80" ry="1.80" fill="#8080b9" opacity="0.92"/>
<ellipse cx="443.7" cy="113.4" rx="2.70" ry="2.70" fill="#a4a4cb" opacity="0.92"/>
<path d="M384.5,57 C385,50 391,47.5 397,48.5 C403,47 410,49.5 411.5,56 C413,62 411,69 404,71.5 C398,73.5 390,73 386,68.5 C383.5,65 383.5,60 384.5,57 Z" fill="#ec6f8f" opacity="0.6"/>
<path d="M385.5,57 C386,51 391,48.5 397,49 C403,47.5 409,50 410.5,56 C412,62 410,68 404,70.5 C398,73 390,72.5 386.5,68 C384,65 384.5,60 385.5,57 Z" fill="#e42a5a"/>
<ellipse cx="393" cy="61" rx="5.2" ry="6.2" fill="#908ec2" opacity="0.95" transform="rotate(20 393 61)"/>
<ellipse cx="400" cy="63" rx="5" ry="4" fill="#8886bd" opacity="0.95"/>
<circle cx="399.5" cy="54" r="2.3" fill="#6a68aa"/>
<circle cx="404.3" cy="54.2" r="2.2" fill="#6a68aa"/>
<path d="M477.5,49 C472,46.5 465,48 459.5,50.5 C455,53 451,57 448.5,62 C445,64 443.5,68 447,70 C446,77 448,86 454.5,90.5 C461,93 469.5,92 474,87.5 C478,82.5 480,74 480.5,66 C481,59 480.5,52 477.5,49 Z" fill="#ec6f8f" opacity="0.6"/>
<path d="M476.5,50 C472,48 465,49 460,51.5 C456,54 452,58 449.5,63 C446,65 444.5,68 448,70 C447,77 449,85 455,89.5 C461,92 469,91 473,87 C477,82 479,74 479.5,66 C480,59 479.5,53 476.5,50 Z" fill="#e3275a"/>
<path d="M468,50.5 C474,50.5 478.5,54 478,62 C476,58 472,54 468,50.5 Z" fill="#ece4e4"/>
<path d="M457,51 C464,46.5 475,46 480.5,51.5 C483.5,56 483,65 481,74" stroke="#e23a68" stroke-width="0.9" fill="none" opacity="0.85"/>
<ellipse cx="468.5" cy="57" rx="3.4" ry="3.2" fill="#8c8ac0" opacity="0.95"/>
<ellipse cx="460.6" cy="64.5" rx="3.2" ry="3.6" fill="#8f8dc2" opacity="0.95"/>
<ellipse cx="471" cy="67.5" rx="4.6" ry="3.8" fill="#8886bf" opacity="0.95"/>
<ellipse cx="470.5" cy="74" rx="3.6" ry="2.8" fill="#9694c6" opacity="0.9"/>
<ellipse cx="466" cy="80" rx="5.2" ry="4.2" fill="#8886bf" opacity="0.95"/>
<ellipse cx="476.5" cy="58" rx="2.6" ry="4.4" fill="#9a98c8" opacity="0.9"/>
</g></g>
<text transform="translate(323.60 136.30)" font-size="12.6" text-anchor="start" fill="#000" font-weight="bold" stroke="#000" stroke-width="0.55">C</text>
<rect x="363.6" y="135.4" width="135.8" height="87.2" fill="none" stroke="#111" stroke-width="1.2"/>
<line x1="360.4" y1="138.8" x2="363.6" y2="138.8" stroke="#1a1a1a" stroke-width="0.8"/>
<text transform="translate(358.60 140.70)" font-size="5.4" text-anchor="end" fill="#333" font-weight="normal" stroke="#333" stroke-width="0.13">100</text>
<line x1="360.4" y1="158.9" x2="363.6" y2="158.9" stroke="#1a1a1a" stroke-width="0.8"/>
<text transform="translate(358.60 160.80)" font-size="5.4" text-anchor="end" fill="#333" font-weight="normal" stroke="#333" stroke-width="0.13">75</text>
<line x1="360.4" y1="178.6" x2="363.6" y2="178.6" stroke="#1a1a1a" stroke-width="0.8"/>
<text transform="translate(358.60 180.50)" font-size="5.4" text-anchor="end" fill="#333" font-weight="normal" stroke="#333" stroke-width="0.13">50</text>
<line x1="360.4" y1="198.7" x2="363.6" y2="198.7" stroke="#1a1a1a" stroke-width="0.8"/>
<text transform="translate(358.60 200.60)" font-size="5.4" text-anchor="end" fill="#333" font-weight="normal" stroke="#333" stroke-width="0.13">25</text>
<line x1="360.4" y1="218.4" x2="363.6" y2="218.4" stroke="#1a1a1a" stroke-width="0.8"/>
<text transform="translate(358.60 220.30)" font-size="5.4" text-anchor="end" fill="#333" font-weight="normal" stroke="#333" stroke-width="0.13">0</text>
<text transform="translate(341.80 176.50) rotate(-90) scale(0.9592 1)" font-size="7.0" text-anchor="middle" fill="#333" font-weight="normal" stroke="#333" stroke-width="0.13">Emperipolesis %</text>
<line x1="400.2" y1="222.6" x2="400.2" y2="225.6" stroke="#1a1a1a" stroke-width="0.8"/>
<text transform="translate(400.20 234.60)" font-size="5.6" text-anchor="middle" fill="#333" font-weight="normal" stroke="#333" stroke-width="0.13">Control</text>
<line x1="462.4" y1="222.6" x2="462.4" y2="225.6" stroke="#1a1a1a" stroke-width="0.8"/>
<text transform="translate(462.40 234.60)" font-size="5.6" text-anchor="middle" fill="#333" font-weight="normal" stroke="#333" stroke-width="0.13">GPS</text>
<circle cx="394.8" cy="218.8" r="1.05" fill="#b3112e"/>
<circle cx="401.9" cy="216.5" r="1.05" fill="#b3112e"/>
<circle cx="406.3" cy="218.8" r="1.05" fill="#b3112e"/>
<circle cx="460.8" cy="166" r="1.05" fill="#b3112e"/>
<circle cx="464.6" cy="173.3" r="1.05" fill="#b3112e"/>
<circle cx="463.5" cy="179" r="1.05" fill="#b3112e"/>
<text transform="translate(7.40 213.50)" font-size="12.6" text-anchor="start" fill="#000" font-weight="bold" stroke="#000" stroke-width="0.55">D</text>
<rect x="39.9" y="231.4" width="57.90" height="147.32" fill="#ffffff"/>
<rect x="97.80" y="231.4" width="173.70" height="147.32" fill="#f1f1f1"/>
<rect x="117.10" y="231.40" width="9.65" height="5.08" fill="#ffffff"/>
<rect x="213.60" y="231.40" width="9.65" height="5.08" fill="#ffffff"/>
<rect x="117.10" y="236.48" width="9.65" height="5.08" fill="#ffffff"/>
<rect x="136.40" y="241.56" width="9.65" height="5.08" fill="#ffffff"/>
<rect x="213.60" y="241.56" width="9.65" height="5.08" fill="#ffffff"/>
<rect x="117.10" y="246.64" width="9.65" height="5.08" fill="#ffffff"/>
<rect x="136.40" y="246.64" width="9.65" height="5.08" fill="#ffffff"/>
<rect x="194.30" y="246.64" width="9.65" height="5.08" fill="#ffffff"/>
<rect x="213.60" y="246.64" width="9.65" height="5.08" fill="#ffffff"/>
<rect x="107.45" y="251.72" width="9.65" height="5.08" fill="#ffffff"/>
<rect x="117.10" y="251.72" width="9.65" height="5.08" fill="#ffffff"/>
<rect x="146.05" y="251.72" width="9.65" height="5.08" fill="#ffffff"/>
<rect x="175.00" y="251.72" width="9.65" height="5.08" fill="#ffffff"/>
<rect x="184.65" y="251.72" width="9.65" height="5.08" fill="#ffffff"/>
<rect x="213.60" y="251.72" width="9.65" height="5.08" fill="#ffffff"/>
<rect x="242.55" y="251.72" width="9.65" height="5.08" fill="#ffffff"/>
<rect x="252.20" y="251.72" width="9.65" height="5.08" fill="#ffffff"/>
<rect x="107.45" y="256.80" width="9.65" height="5.08" fill="#ffffff"/>
<rect x="117.10" y="256.80" width="9.65" height="5.08" fill="#ffffff"/>
<rect x="136.40" y="256.80" width="9.65" height="5.08" fill="#ffffff"/>
<rect x="175.00" y="256.80" width="9.65" height="5.08" fill="#ffffff"/>
<rect x="184.65" y="256.80" width="9.65" height="5.08" fill="#ffffff"/>
<rect x="223.25" y="256.80" width="9.65" height="5.08" fill="#ffffff"/>
<rect x="242.55" y="256.80" width="9.65" height="5.08" fill="#ffffff"/>
<rect x="261.85" y="256.80" width="9.65" height="5.08" fill="#ffffff"/>
<rect x="97.80" y="261.88" width="9.65" height="5.08" fill="#ffffff"/>
<rect x="107.45" y="261.88" width="9.65" height="5.08" fill="#ffffff"/>
<rect x="136.40" y="261.88" width="9.65" height="5.08" fill="#ffffff"/>
<rect x="155.70" y="261.88" width="9.65" height="5.08" fill="#ffffff"/>
<rect x="165.35" y="261.88" width="9.65" height="5.08" fill="#ffffff"/>
<rect x="175.00" y="261.88" width="9.65" height="5.08" fill="#ffffff"/>
<rect x="184.65" y="261.88" width="9.65" height="5.08" fill="#ffffff"/>
<rect x="194.30" y="261.88" width="9.65" height="5.08" fill="#ffffff"/>
<rect x="223.25" y="261.88" width="9.65" height="5.08" fill="#ffffff"/>
<rect x="252.20" y="261.88" width="9.65" height="5.08" fill="#ffffff"/>
<rect x="194.30" y="266.96" width="9.65" height="5.08" fill="#ffffff"/>
<rect x="223.25" y="272.04" width="9.65" height="5.08" fill="#ffffff"/>
<rect x="213.60" y="277.12" width="9.65" height="5.08" fill="#ffffff"/>
<rect x="242.55" y="277.12" width="9.65" height="5.08" fill="#ffffff"/>
<rect x="261.85" y="277.12" width="9.65" height="5.08" fill="#ffffff"/>
<rect x="97.80" y="282.20" width="9.65" height="5.08" fill="#ffffff"/>
<rect x="107.45" y="282.20" width="9.65" height="5.08" fill="#ffffff"/>
<rect x="117.10" y="282.20" width="9.65" height="5.08" fill="#ffffff"/>
<rect x="126.75" y="282.20" width="9.65" height="5.08" fill="#ffffff"/>
<rect x="136.40" y="282.20" width="9.65" height="5.08" fill="#ffffff"/>
<rect x="155.70" y="282.20" width="9.65" height="5.08" fill="#ffffff"/>
<rect x="165.35" y="282.20" width="9.65" height="5.08" fill="#ffffff"/>
<rect x="194.30" y="282.20" width="9.65" height="5.08" fill="#ffffff"/>
<rect x="223.25" y="282.20" width="9.65" height="5.08" fill="#ffffff"/>
<rect x="252.20" y="282.20" width="9.65" height="5.08" fill="#ffffff"/>
<rect x="117.10" y="287.28" width="9.65" height="5.08" fill="#ffffff"/>
<rect x="136.40" y="287.28" width="9.65" height="5.08" fill="#ffffff"/>
<rect x="194.30" y="287.28" width="9.65" height="5.08" fill="#ffffff"/>
<rect x="242.55" y="287.28" width="9.65" height="5.08" fill="#ffffff"/>
<rect x="261.85" y="287.28" width="9.65" height="5.08" fill="#ffffff"/>
<rect x="107.45" y="292.36" width="9.65" height="5.08" fill="#ffffff"/>
<rect x="117.10" y="292.36" width="9.65" height="5.08" fill="#ffffff"/>
<rect x="126.75" y="292.36" width="9.65" height="5.08" fill="#ffffff"/>
<rect x="155.70" y="292.36" width="9.65" height="5.08" fill="#ffffff"/>
<rect x="184.65" y="292.36" width="9.65" height="5.08" fill="#ffffff"/>
<rect x="213.60" y="292.36" width="9.65" height="5.08" fill="#ffffff"/>
<rect x="223.25" y="292.36" width="9.65" height="5.08" fill="#ffffff"/>
<rect x="242.55" y="292.36" width="9.65" height="5.08" fill="#ffffff"/>
<rect x="261.85" y="292.36" width="9.65" height="5.08" fill="#ffffff"/>
<rect x="97.80" y="297.44" width="9.65" height="5.08" fill="#ffffff"/>
<rect x="136.40" y="297.44" width="9.65" height="5.08" fill="#ffffff"/>
<rect x="203.95" y="297.44" width="9.65" height="5.08" fill="#ffffff"/>
<rect x="242.55" y="297.44" width="9.65" height="5.08" fill="#ffffff"/>
<rect x="261.85" y="297.44" width="9.65" height="5.08" fill="#ffffff"/>
<rect x="107.45" y="302.52" width="9.65" height="5.08" fill="#ffffff"/>
<rect x="117.10" y="302.52" width="9.65" height="5.08" fill="#ffffff"/>
<rect x="126.75" y="302.52" width="9.65" height="5.08" fill="#ffffff"/>
<rect x="146.05" y="302.52" width="9.65" height="5.08" fill="#ffffff"/>
<rect x="155.70" y="302.52" width="9.65" height="5.08" fill="#ffffff"/>
<rect x="165.35" y="302.52" width="9.65" height="5.08" fill="#ffffff"/>
<rect x="184.65" y="302.52" width="9.65" height="5.08" fill="#ffffff"/>
<rect x="242.55" y="302.52" width="9.65" height="5.08" fill="#ffffff"/>
<rect x="252.20" y="302.52" width="9.65" height="5.08" fill="#ffffff"/>
<rect x="117.10" y="307.60" width="9.65" height="5.08" fill="#ffffff"/>
<rect x="146.05" y="307.60" width="9.65" height="5.08" fill="#ffffff"/>
<rect x="155.70" y="307.60" width="9.65" height="5.08" fill="#ffffff"/>
<rect x="213.60" y="307.60" width="9.65" height="5.08" fill="#ffffff"/>
<rect x="117.10" y="312.68" width="9.65" height="5.08" fill="#ffffff"/>
<rect x="155.70" y="312.68" width="9.65" height="5.08" fill="#ffffff"/>
<rect x="213.60" y="312.68" width="9.65" height="5.08" fill="#ffffff"/>
<rect x="97.80" y="317.76" width="9.65" height="5.08" fill="#ffffff"/>
<rect x="126.75" y="317.76" width="9.65" height="5.08" fill="#ffffff"/>
<rect x="213.60" y="322.84" width="9.65" height="5.08" fill="#ffffff"/>
<rect x="97.80" y="327.92" width="9.65" height="5.08" fill="#ffffff"/>
<rect x="126.75" y="327.92" width="9.65" height="5.08" fill="#ffffff"/>
<rect x="155.70" y="327.92" width="9.65" height="5.08" fill="#ffffff"/>
<rect x="203.95" y="327.92" width="9.65" height="5.08" fill="#ffffff"/>
<rect x="155.70" y="333.00" width="9.65" height="5.08" fill="#ffffff"/>
<rect x="155.70" y="338.08" width="9.65" height="5.08" fill="#ffffff"/>
<rect x="155.70" y="343.16" width="9.65" height="5.08" fill="#ffffff"/>
<rect x="213.60" y="343.16" width="9.65" height="5.08" fill="#ffffff"/>
<rect x="97.80" y="348.24" width="9.65" height="5.08" fill="#ffffff"/>
<rect x="126.75" y="348.24" width="9.65" height="5.08" fill="#ffffff"/>
<rect x="155.70" y="348.24" width="9.65" height="5.08" fill="#ffffff"/>
<rect x="213.60" y="348.24" width="9.65" height="5.08" fill="#ffffff"/>
<rect x="97.80" y="353.32" width="9.65" height="5.08" fill="#ffffff"/>
<rect x="126.75" y="353.32" width="9.65" height="5.08" fill="#ffffff"/>
<rect x="97.80" y="358.40" width="9.65" height="5.08" fill="#ffffff"/>
<rect x="107.45" y="358.40" width="9.65" height="5.08" fill="#ffffff"/>
<rect x="117.10" y="358.40" width="9.65" height="5.08" fill="#ffffff"/>
<rect x="126.75" y="358.40" width="9.65" height="5.08" fill="#ffffff"/>
<rect x="136.40" y="358.40" width="9.65" height="5.08" fill="#ffffff"/>
<rect x="146.05" y="358.40" width="9.65" height="5.08" fill="#ffffff"/>
<rect x="155.70" y="358.40" width="9.65" height="5.08" fill="#ffffff"/>
<rect x="175.00" y="358.40" width="9.65" height="5.08" fill="#ffffff"/>
<rect x="184.65" y="358.40" width="9.65" height="5.08" fill="#ffffff"/>
<rect x="194.30" y="358.40" width="9.65" height="5.08" fill="#ffffff"/>
<rect x="213.60" y="358.40" width="9.65" height="5.08" fill="#ffffff"/>
<rect x="223.25" y="358.40" width="9.65" height="5.08" fill="#ffffff"/>
<rect x="242.55" y="358.40" width="9.65" height="5.08" fill="#ffffff"/>
<rect x="261.85" y="358.40" width="9.65" height="5.08" fill="#ffffff"/>
<rect x="136.40" y="363.48" width="9.65" height="5.08" fill="#ffffff"/>
<rect x="136.40" y="368.56" width="9.65" height="5.08" fill="#ffffff"/>
<rect x="203.95" y="368.56" width="9.65" height="5.08" fill="#ffffff"/>
<rect x="261.85" y="368.56" width="9.65" height="5.08" fill="#ffffff"/>
<line x1="39.90" y1="231.4" x2="39.90" y2="378.72" stroke="#e5e5e5" stroke-width="0.6"/>
<line x1="49.55" y1="231.4" x2="49.55" y2="378.72" stroke="#e5e5e5" stroke-width="0.6"/>
<line x1="59.20" y1="231.4" x2="59.20" y2="378.72" stroke="#e5e5e5" stroke-width="0.6"/>
<line x1="68.85" y1="231.4" x2="68.85" y2="378.72" stroke="#e5e5e5" stroke-width="0.6"/>
<line x1="78.50" y1="231.4" x2="78.50" y2="378.72" stroke="#e5e5e5" stroke-width="0.6"/>
<line x1="88.15" y1="231.4" x2="88.15" y2="378.72" stroke="#e5e5e5" stroke-width="0.6"/>
<line x1="97.80" y1="231.4" x2="97.80" y2="378.72" stroke="#e5e5e5" stroke-width="0.6"/>
<line x1="107.45" y1="231.4" x2="107.45" y2="378.72" stroke="#e5e5e5" stroke-width="0.6"/>
<line x1="117.10" y1="231.4" x2="117.10" y2="378.72" stroke="#e5e5e5" stroke-width="0.6"/>
<line x1="126.75" y1="231.4" x2="126.75" y2="378.72" stroke="#e5e5e5" stroke-width="0.6"/>
<line x1="136.40" y1="231.4" x2="136.40" y2="378.72" stroke="#e5e5e5" stroke-width="0.6"/>
<line x1="146.05" y1="231.4" x2="146.05" y2="378.72" stroke="#e5e5e5" stroke-width="0.6"/>
<line x1="155.70" y1="231.4" x2="155.70" y2="378.72" stroke="#e5e5e5" stroke-width="0.6"/>
<line x1="165.35" y1="231.4" x2="165.35" y2="378.72" stroke="#e5e5e5" stroke-width="0.6"/>
<line x1="175.00" y1="231.4" x2="175.00" y2="378.72" stroke="#e5e5e5" stroke-width="0.6"/>
<line x1="184.65" y1="231.4" x2="184.65" y2="378.72" stroke="#e5e5e5" stroke-width="0.6"/>
<line x1="194.30" y1="231.4" x2="194.30" y2="378.72" stroke="#e5e5e5" stroke-width="0.6"/>
<line x1="203.95" y1="231.4" x2="203.95" y2="378.72" stroke="#e5e5e5" stroke-width="0.6"/>
<line x1="213.60" y1="231.4" x2="213.60" y2="378.72" stroke="#e5e5e5" stroke-width="0.6"/>
<line x1="223.25" y1="231.4" x2="223.25" y2="378.72" stroke="#e5e5e5" stroke-width="0.6"/>
<line x1="232.90" y1="231.4" x2="232.90" y2="378.72" stroke="#e5e5e5" stroke-width="0.6"/>
<line x1="242.55" y1="231.4" x2="242.55" y2="378.72" stroke="#e5e5e5" stroke-width="0.6"/>
<line x1="252.20" y1="231.4" x2="252.20" y2="378.72" stroke="#e5e5e5" stroke-width="0.6"/>
<line x1="261.85" y1="231.4" x2="261.85" y2="378.72" stroke="#e5e5e5" stroke-width="0.6"/>
<line x1="271.50" y1="231.4" x2="271.50" y2="378.72" stroke="#e5e5e5" stroke-width="0.6"/>
<line x1="39.9" y1="231.40" x2="271.50" y2="231.40" stroke="#e5e5e5" stroke-width="0.45"/>
<line x1="39.9" y1="236.48" x2="271.50" y2="236.48" stroke="#e5e5e5" stroke-width="0.45"/>
<line x1="39.9" y1="241.56" x2="271.50" y2="241.56" stroke="#e5e5e5" stroke-width="0.45"/>
<line x1="39.9" y1="246.64" x2="271.50" y2="246.64" stroke="#e5e5e5" stroke-width="0.45"/>
<line x1="39.9" y1="251.72" x2="271.50" y2="251.72" stroke="#e5e5e5" stroke-width="0.45"/>
<line x1="39.9" y1="256.80" x2="271.50" y2="256.80" stroke="#e5e5e5" stroke-width="0.45"/>
<line x1="39.9" y1="261.88" x2="271.50" y2="261.88" stroke="#e5e5e5" stroke-width="0.45"/>
<line x1="39.9" y1="266.96" x2="271.50" y2="266.96" stroke="#e5e5e5" stroke-width="0.45"/>
<line x1="39.9" y1="272.04" x2="271.50" y2="272.04" stroke="#e5e5e5" stroke-width="0.45"/>
<line x1="39.9" y1="277.12" x2="271.50" y2="277.12" stroke="#e5e5e5" stroke-width="0.45"/>
<line x1="39.9" y1="282.20" x2="271.50" y2="282.20" stroke="#e5e5e5" stroke-width="0.45"/>
<line x1="39.9" y1="287.28" x2="271.50" y2="287.28" stroke="#e5e5e5" stroke-width="0.45"/>
<line x1="39.9" y1="292.36" x2="271.50" y2="292.36" stroke="#e5e5e5" stroke-width="0.45"/>
<line x1="39.9" y1="297.44" x2="271.50" y2="297.44" stroke="#e5e5e5" stroke-width="0.45"/>
<line x1="39.9" y1="302.52" x2="271.50" y2="302.52" stroke="#e5e5e5" stroke-width="0.45"/>
<line x1="39.9" y1="307.60" x2="271.50" y2="307.60" stroke="#e5e5e5" stroke-width="0.45"/>
<line x1="39.9" y1="312.68" x2="271.50" y2="312.68" stroke="#e5e5e5" stroke-width="0.45"/>
<line x1="39.9" y1="317.76" x2="271.50" y2="317.76" stroke="#e5e5e5" stroke-width="0.45"/>
<line x1="39.9" y1="322.84" x2="271.50" y2="322.84" stroke="#e5e5e5" stroke-width="0.45"/>
<line x1="39.9" y1="327.92" x2="271.50" y2="327.92" stroke="#e5e5e5" stroke-width="0.45"/>
<line x1="39.9" y1="333.00" x2="271.50" y2="333.00" stroke="#e5e5e5" stroke-width="0.45"/>
<line x1="39.9" y1="338.08" x2="271.50" y2="338.08" stroke="#e5e5e5" stroke-width="0.45"/>
<line x1="39.9" y1="343.16" x2="271.50" y2="343.16" stroke="#e5e5e5" stroke-width="0.45"/>
<line x1="39.9" y1="348.24" x2="271.50" y2="348.24" stroke="#e5e5e5" stroke-width="0.45"/>
<line x1="39.9" y1="353.32" x2="271.50" y2="353.32" stroke="#e5e5e5" stroke-width="0.45"/>
<line x1="39.9" y1="358.40" x2="271.50" y2="358.40" stroke="#e5e5e5" stroke-width="0.45"/>
<line x1="39.9" y1="363.48" x2="271.50" y2="363.48" stroke="#e5e5e5" stroke-width="0.45"/>
<line x1="39.9" y1="368.56" x2="271.50" y2="368.56" stroke="#e5e5e5" stroke-width="0.45"/>
<line x1="39.9" y1="373.64" x2="271.50" y2="373.64" stroke="#e5e5e5" stroke-width="0.45"/>
<line x1="39.9" y1="378.72" x2="271.50" y2="378.72" stroke="#e5e5e5" stroke-width="0.45"/>
<rect x="49.80" y="231.40" width="9.15" height="5.43" fill="#9b88c4"/>
<rect x="49.80" y="236.48" width="9.15" height="5.43" fill="#9b88c4"/>
<rect x="69.10" y="241.56" width="9.15" height="5.43" fill="#9b88c4"/>
<rect x="78.75" y="256.80" width="9.15" height="5.43" fill="#9b88c4"/>
<rect x="40.15" y="266.96" width="9.15" height="5.43" fill="#9b88c4"/>
<rect x="59.45" y="272.04" width="9.15" height="5.43" fill="#9b88c4"/>
<rect x="69.10" y="307.60" width="9.15" height="5.43" fill="#9b88c4"/>
<rect x="88.40" y="307.60" width="9.15" height="5.43" fill="#9b88c4"/>
<rect x="78.75" y="312.68" width="9.15" height="5.43" fill="#9b88c4"/>
<rect x="69.10" y="322.84" width="9.15" height="5.43" fill="#9b88c4"/>
<rect x="40.15" y="338.08" width="9.15" height="5.43" fill="#9b88c4"/>
<rect x="78.75" y="368.56" width="9.15" height="5.43" fill="#9b88c4"/>
<rect x="69.10" y="373.64" width="9.15" height="5.43" fill="#9b88c4"/>
<rect x="117.35" y="261.88" width="9.15" height="5.43" fill="#5fa577"/>
<rect x="117.35" y="266.96" width="9.15" height="5.43" fill="#5fa577"/>
<rect x="136.65" y="266.96" width="9.15" height="5.43" fill="#5fa577"/>
<rect x="155.95" y="272.04" width="9.15" height="5.43" fill="#5fa577"/>
<rect x="98.05" y="292.36" width="9.15" height="5.43" fill="#5fa577"/>
<rect x="175.25" y="292.36" width="9.15" height="5.43" fill="#5fa577"/>
<rect x="98.05" y="302.52" width="9.15" height="5.43" fill="#5fa577"/>
<rect x="146.30" y="312.68" width="9.15" height="5.43" fill="#5fa577"/>
<rect x="117.35" y="343.16" width="9.15" height="5.43" fill="#5fa577"/>
<rect x="117.35" y="363.48" width="9.15" height="5.43" fill="#5fa577"/>
<rect x="98.05" y="368.56" width="9.15" height="5.43" fill="#5fa577"/>
<rect x="194.55" y="241.56" width="9.15" height="5.43" fill="#5fa577"/>
<rect x="242.80" y="241.56" width="9.15" height="5.43" fill="#5fa577"/>
<rect x="194.55" y="256.80" width="9.15" height="5.43" fill="#5fa577"/>
<rect x="213.85" y="256.80" width="9.15" height="5.43" fill="#5fa577"/>
<rect x="242.80" y="261.88" width="9.15" height="5.43" fill="#5fa577"/>
<rect x="213.85" y="266.96" width="9.15" height="5.43" fill="#5fa577"/>
<rect x="194.55" y="297.44" width="9.15" height="5.43" fill="#5fa577"/>
<rect x="213.85" y="297.44" width="9.15" height="5.43" fill="#5fa577"/>
<rect x="204.20" y="302.52" width="9.15" height="5.43" fill="#5fa577"/>
<rect x="233.15" y="307.60" width="9.15" height="5.43" fill="#5fa577"/>
<rect x="242.80" y="307.60" width="9.15" height="5.43" fill="#5fa577"/>
<rect x="233.15" y="322.84" width="9.15" height="5.43" fill="#5fa577"/>
<rect x="242.80" y="322.84" width="9.15" height="5.43" fill="#5fa577"/>
<rect x="204.20" y="358.40" width="9.15" height="5.43" fill="#5fa577"/>
<rect x="204.20" y="363.48" width="9.15" height="5.43" fill="#5fa577"/>
<rect x="194.55" y="363.48" width="9.15" height="5.43" fill="#5fa577"/>
<rect x="194.55" y="368.56" width="9.15" height="5.43" fill="#5fa577"/>
<rect x="242.80" y="363.48" width="9.15" height="5.43" fill="#5fa577"/>
<rect x="242.80" y="368.56" width="9.15" height="5.43" fill="#5fa577"/>
<rect x="242.80" y="373.64" width="9.15" height="5.43" fill="#5fa577"/>
<rect x="233.15" y="373.64" width="9.15" height="5.43" fill="#5fa577"/>
<rect x="213.85" y="368.56" width="9.15" height="5.43" fill="#5fa577"/>
<rect x="262.10" y="363.48" width="9.15" height="5.43" fill="#5fa577"/>
<rect x="29.3" y="231.70" width="9.4" height="4.48" fill="#c8201f"/>
<rect x="29.3" y="241.86" width="9.4" height="4.48" fill="#c8201f"/>
<rect x="29.3" y="252.02" width="9.4" height="75.60" fill="#c8201f"/>
<line x1="29.3" y1="256.80" x2="38.7" y2="256.80" stroke="#b81a1c" stroke-width="0.4"/>
<line x1="29.3" y1="261.88" x2="38.7" y2="261.88" stroke="#b81a1c" stroke-width="0.4"/>
<line x1="29.3" y1="266.96" x2="38.7" y2="266.96" stroke="#b81a1c" stroke-width="0.4"/>
<line x1="29.3" y1="272.04" x2="38.7" y2="272.04" stroke="#b81a1c" stroke-width="0.4"/>
<line x1="29.3" y1="277.12" x2="38.7" y2="277.12" stroke="#b81a1c" stroke-width="0.4"/>
<line x1="29.3" y1="282.20" x2="38.7" y2="282.20" stroke="#b81a1c" stroke-width="0.4"/>
<line x1="29.3" y1="287.28" x2="38.7" y2="287.28" stroke="#b81a1c" stroke-width="0.4"/>
<line x1="29.3" y1="292.36" x2="38.7" y2="292.36" stroke="#b81a1c" stroke-width="0.4"/>
<line x1="29.3" y1="297.44" x2="38.7" y2="297.44" stroke="#b81a1c" stroke-width="0.4"/>
<line x1="29.3" y1="302.52" x2="38.7" y2="302.52" stroke="#b81a1c" stroke-width="0.4"/>
<line x1="29.3" y1="307.60" x2="38.7" y2="307.60" stroke="#b81a1c" stroke-width="0.4"/>
<line x1="29.3" y1="312.68" x2="38.7" y2="312.68" stroke="#b81a1c" stroke-width="0.4"/>
<line x1="29.3" y1="317.76" x2="38.7" y2="317.76" stroke="#b81a1c" stroke-width="0.4"/>
<line x1="29.3" y1="322.84" x2="38.7" y2="322.84" stroke="#b81a1c" stroke-width="0.4"/>
<rect x="29.3" y="333.30" width="9.4" height="14.64" fill="#c8201f"/>
<line x1="29.3" y1="338.08" x2="38.7" y2="338.08" stroke="#b81a1c" stroke-width="0.4"/>
<line x1="29.3" y1="343.16" x2="38.7" y2="343.16" stroke="#b81a1c" stroke-width="0.4"/>
<rect x="29.3" y="353.62" width="9.4" height="24.80" fill="#c8201f"/>
<line x1="29.3" y1="358.40" x2="38.7" y2="358.40" stroke="#b81a1c" stroke-width="0.4"/>
<line x1="29.3" y1="363.48" x2="38.7" y2="363.48" stroke="#b81a1c" stroke-width="0.4"/>
<line x1="29.3" y1="368.56" x2="38.7" y2="368.56" stroke="#b81a1c" stroke-width="0.4"/>
<line x1="29.3" y1="373.64" x2="38.7" y2="373.64" stroke="#b81a1c" stroke-width="0.4"/>
<rect x="272.1" y="231.40" width="9.2" height="5.08" fill="#f8e08e"/>
<rect x="272.1" y="236.48" width="9.2" height="5.08" fill="#bcd7ea"/>
<rect x="272.1" y="241.56" width="9.2" height="5.08" fill="#f8e08e"/>
<rect x="272.1" y="246.64" width="9.2" height="5.08" fill="#bcd7ea"/>
<rect x="272.1" y="251.72" width="9.2" height="5.08" fill="#f8e08e"/>
<rect x="272.1" y="256.80" width="9.2" height="5.08" fill="#f8e08e"/>
<rect x="272.1" y="261.88" width="9.2" height="5.08" fill="#f8e08e"/>
<rect x="272.1" y="266.96" width="9.2" height="5.08" fill="#f8e08e"/>
<rect x="272.1" y="272.04" width="9.2" height="5.08" fill="#f8e08e"/>
<rect x="272.1" y="277.12" width="9.2" height="5.08" fill="#f8e08e"/>
<rect x="272.1" y="282.20" width="9.2" height="5.08" fill="#f8e08e"/>
<rect x="272.1" y="287.28" width="9.2" height="5.08" fill="#f8e08e"/>
<rect x="272.1" y="292.36" width="9.2" height="5.08" fill="#bcd7ea"/>
<rect x="272.1" y="297.44" width="9.2" height="5.08" fill="#f8e08e"/>
<rect x="272.1" y="302.52" width="9.2" height="5.08" fill="#f8e08e"/>
<rect x="272.1" y="307.60" width="9.2" height="5.08" fill="#f8e08e"/>
<rect x="272.1" y="312.68" width="9.2" height="5.08" fill="#f8e08e"/>
<rect x="272.1" y="317.76" width="9.2" height="5.08" fill="#bcd7ea"/>
<rect x="272.1" y="322.84" width="9.2" height="5.08" fill="#f8e08e"/>
<rect x="272.1" y="327.92" width="9.2" height="5.08" fill="#bcd7ea"/>
<rect x="272.1" y="333.00" width="9.2" height="5.08" fill="#bcd7ea"/>
<rect x="272.1" y="338.08" width="9.2" height="5.08" fill="#f8e08e"/>
<rect x="272.1" y="343.16" width="9.2" height="5.08" fill="#bcd7ea"/>
<rect x="272.1" y="348.24" width="9.2" height="5.08" fill="#bcd7ea"/>
<rect x="272.1" y="353.32" width="9.2" height="5.08" fill="#f8e08e"/>
<rect x="272.1" y="358.40" width="9.2" height="5.08" fill="#f8e08e"/>
<rect x="272.1" y="363.48" width="9.2" height="5.08" fill="#bcd7ea"/>
<rect x="272.1" y="368.56" width="9.2" height="5.08" fill="#f8e08e"/>
<rect x="272.1" y="373.64" width="9.2" height="5.08" fill="#f8e08e"/>
<line x1="272.1" y1="236.48" x2="281.3" y2="236.48" stroke="#ffffff" stroke-width="0.3" opacity="0.6"/>
<line x1="272.1" y1="241.56" x2="281.3" y2="241.56" stroke="#ffffff" stroke-width="0.3" opacity="0.6"/>
<line x1="272.1" y1="246.64" x2="281.3" y2="246.64" stroke="#ffffff" stroke-width="0.3" opacity="0.6"/>
<line x1="272.1" y1="251.72" x2="281.3" y2="251.72" stroke="#ffffff" stroke-width="0.3" opacity="0.6"/>
<line x1="272.1" y1="256.80" x2="281.3" y2="256.80" stroke="#ffffff" stroke-width="0.3" opacity="0.6"/>
<line x1="272.1" y1="261.88" x2="281.3" y2="261.88" stroke="#ffffff" stroke-width="0.3" opacity="0.6"/>
<line x1="272.1" y1="266.96" x2="281.3" y2="266.96" stroke="#ffffff" stroke-width="0.3" opacity="0.6"/>
<line x1="272.1" y1="272.04" x2="281.3" y2="272.04" stroke="#ffffff" stroke-width="0.3" opacity="0.6"/>
<line x1="272.1" y1="277.12" x2="281.3" y2="277.12" stroke="#ffffff" stroke-width="0.3" opacity="0.6"/>
<line x1="272.1" y1="282.20" x2="281.3" y2="282.20" stroke="#ffffff" stroke-width="0.3" opacity="0.6"/>
<line x1="272.1" y1="287.28" x2="281.3" y2="287.28" stroke="#ffffff" stroke-width="0.3" opacity="0.6"/>
<line x1="272.1" y1="292.36" x2="281.3" y2="292.36" stroke="#ffffff" stroke-width="0.3" opacity="0.6"/>
<line x1="272.1" y1="297.44" x2="281.3" y2="297.44" stroke="#ffffff" stroke-width="0.3" opacity="0.6"/>
<line x1="272.1" y1="302.52" x2="281.3" y2="302.52" stroke="#ffffff" stroke-width="0.3" opacity="0.6"/>
<line x1="272.1" y1="307.60" x2="281.3" y2="307.60" stroke="#ffffff" stroke-width="0.3" opacity="0.6"/>
<line x1="272.1" y1="312.68" x2="281.3" y2="312.68" stroke="#ffffff" stroke-width="0.3" opacity="0.6"/>
<line x1="272.1" y1="317.76" x2="281.3" y2="317.76" stroke="#ffffff" stroke-width="0.3" opacity="0.6"/>
<line x1="272.1" y1="322.84" x2="281.3" y2="322.84" stroke="#ffffff" stroke-width="0.3" opacity="0.6"/>
<line x1="272.1" y1="327.92" x2="281.3" y2="327.92" stroke="#ffffff" stroke-width="0.3" opacity="0.6"/>
<line x1="272.1" y1="333.00" x2="281.3" y2="333.00" stroke="#ffffff" stroke-width="0.3" opacity="0.6"/>
<line x1="272.1" y1="338.08" x2="281.3" y2="338.08" stroke="#ffffff" stroke-width="0.3" opacity="0.6"/>
<line x1="272.1" y1="343.16" x2="281.3" y2="343.16" stroke="#ffffff" stroke-width="0.3" opacity="0.6"/>
<line x1="272.1" y1="348.24" x2="281.3" y2="348.24" stroke="#ffffff" stroke-width="0.3" opacity="0.6"/>
<line x1="272.1" y1="353.32" x2="281.3" y2="353.32" stroke="#ffffff" stroke-width="0.3" opacity="0.6"/>
<line x1="272.1" y1="358.40" x2="281.3" y2="358.40" stroke="#ffffff" stroke-width="0.3" opacity="0.6"/>
<line x1="272.1" y1="363.48" x2="281.3" y2="363.48" stroke="#ffffff" stroke-width="0.3" opacity="0.6"/>
<line x1="272.1" y1="368.56" x2="281.3" y2="368.56" stroke="#ffffff" stroke-width="0.3" opacity="0.6"/>
<line x1="272.1" y1="373.64" x2="281.3" y2="373.64" stroke="#ffffff" stroke-width="0.3" opacity="0.6"/>
<text transform="translate(284.60 236.04) scale(0.8500 1)" font-size="6.3" text-anchor="start" fill="#2a2a2a" font-weight="normal" stroke="#2a2a2a" stroke-width="0.12">1.1</text>
<text transform="translate(284.60 241.12) scale(0.8500 1)" font-size="6.3" text-anchor="start" fill="#2a2a2a" font-weight="normal" stroke="#2a2a2a" stroke-width="0.12">1.2</text>
<text transform="translate(284.60 246.20) scale(0.8500 1)" font-size="6.3" text-anchor="start" fill="#2a2a2a" font-weight="normal" stroke="#2a2a2a" stroke-width="0.12">3</text>
<text transform="translate(284.60 251.28) scale(0.8500 1)" font-size="6.3" text-anchor="start" fill="#2a2a2a" font-weight="normal" stroke="#2a2a2a" stroke-width="0.12">4</text>
<text transform="translate(284.60 256.36) scale(0.8500 1)" font-size="6.3" text-anchor="start" fill="#2a2a2a" font-weight="normal" stroke="#2a2a2a" stroke-width="0.12">5</text>
<text transform="translate(284.60 261.44) scale(0.8500 1)" font-size="6.3" text-anchor="start" fill="#2a2a2a" font-weight="normal" stroke="#2a2a2a" stroke-width="0.12">6</text>
<text transform="translate(284.60 266.52) scale(0.8500 1)" font-size="6.3" text-anchor="start" fill="#2a2a2a" font-weight="normal" stroke="#2a2a2a" stroke-width="0.12">7</text>
<text transform="translate(284.60 271.60) scale(0.8500 1)" font-size="6.3" text-anchor="start" fill="#2a2a2a" font-weight="normal" stroke="#2a2a2a" stroke-width="0.12">10</text>
<text transform="translate(284.60 276.68) scale(0.8500 1)" font-size="6.3" text-anchor="start" fill="#2a2a2a" font-weight="normal" stroke="#2a2a2a" stroke-width="0.12">11.1</text>
<text transform="translate(284.60 281.76) scale(0.8500 1)" font-size="6.3" text-anchor="start" fill="#2a2a2a" font-weight="normal" stroke="#2a2a2a" stroke-width="0.12">12</text>
<text transform="translate(284.60 286.84) scale(0.8500 1)" font-size="6.3" text-anchor="start" fill="#2a2a2a" font-weight="normal" stroke="#2a2a2a" stroke-width="0.12">13</text>
<text transform="translate(284.60 291.92) scale(0.8500 1)" font-size="6.3" text-anchor="start" fill="#2a2a2a" font-weight="normal" stroke="#2a2a2a" stroke-width="0.12">15</text>
<text transform="translate(284.60 297.00) scale(0.8500 1)" font-size="6.3" text-anchor="start" fill="#2a2a2a" font-weight="normal" stroke="#2a2a2a" stroke-width="0.12">17</text>
<text transform="translate(284.60 302.08) scale(0.8500 1)" font-size="6.3" text-anchor="start" fill="#2a2a2a" font-weight="normal" stroke="#2a2a2a" stroke-width="0.12">18</text>
<text transform="translate(284.60 307.16) scale(0.8500 1)" font-size="6.3" text-anchor="start" fill="#2a2a2a" font-weight="normal" stroke="#2a2a2a" stroke-width="0.12">19</text>
<text transform="translate(284.60 312.24) scale(0.8500 1)" font-size="6.3" text-anchor="start" fill="#2a2a2a" font-weight="normal" stroke="#2a2a2a" stroke-width="0.12">20.1</text>
<text transform="translate(284.60 317.32) scale(0.8500 1)" font-size="6.3" text-anchor="start" fill="#2a2a2a" font-weight="normal" stroke="#2a2a2a" stroke-width="0.12">20.2</text>
<text transform="translate(284.60 322.40) scale(0.8500 1)" font-size="6.3" text-anchor="start" fill="#2a2a2a" font-weight="normal" stroke="#2a2a2a" stroke-width="0.12">21.1</text>
<text transform="translate(284.60 327.48) scale(0.8500 1)" font-size="6.3" text-anchor="start" fill="#2a2a2a" font-weight="normal" stroke="#2a2a2a" stroke-width="0.12">22.1</text>
<text transform="translate(284.60 332.56) scale(0.8500 1)" font-size="6.3" text-anchor="start" fill="#2a2a2a" font-weight="normal" stroke="#2a2a2a" stroke-width="0.12">22.2</text>
<text transform="translate(284.60 337.64) scale(0.8500 1)" font-size="6.3" text-anchor="start" fill="#2a2a2a" font-weight="normal" stroke="#2a2a2a" stroke-width="0.12">24</text>
<text transform="translate(284.60 342.72) scale(0.8500 1)" font-size="6.3" text-anchor="start" fill="#2a2a2a" font-weight="normal" stroke="#2a2a2a" stroke-width="0.12">25</text>
<text transform="translate(284.60 347.80) scale(0.8500 1)" font-size="6.3" text-anchor="start" fill="#2a2a2a" font-weight="normal" stroke="#2a2a2a" stroke-width="0.12">27</text>
<text transform="translate(284.60 352.88) scale(0.8500 1)" font-size="6.3" text-anchor="start" fill="#2a2a2a" font-weight="normal" stroke="#2a2a2a" stroke-width="0.12">31</text>
<text transform="translate(284.60 357.96) scale(0.8500 1)" font-size="6.3" text-anchor="start" fill="#2a2a2a" font-weight="normal" stroke="#2a2a2a" stroke-width="0.12">32</text>
<text transform="translate(284.60 363.04) scale(0.8500 1)" font-size="6.3" text-anchor="start" fill="#2a2a2a" font-weight="normal" stroke="#2a2a2a" stroke-width="0.12">33</text>
<text transform="translate(284.60 368.12) scale(0.8500 1)" font-size="6.3" text-anchor="start" fill="#2a2a2a" font-weight="normal" stroke="#2a2a2a" stroke-width="0.12">34.1</text>
<text transform="translate(284.60 373.20) scale(0.8500 1)" font-size="6.3" text-anchor="start" fill="#2a2a2a" font-weight="normal" stroke="#2a2a2a" stroke-width="0.12">34.2</text>
<text transform="translate(284.60 378.28) scale(0.8500 1)" font-size="6.3" text-anchor="start" fill="#2a2a2a" font-weight="normal" stroke="#2a2a2a" stroke-width="0.12">35</text>
<text transform="translate(40.20 218.60) scale(0.8681 1)" font-size="6.6" text-anchor="start" fill="#333" font-weight="normal" stroke="#333" stroke-width="0.13">Autoimmune disease</text>
<rect x="39.4" y="223" width="57.6" height="3" fill="#9b88c4"/>
<rect x="98.3" y="223" width="171.5" height="3" fill="#62a676"/>
<text transform="translate(162.00 218.60) scale(0.9161 1)" font-size="6.6" text-anchor="start" fill="#333" font-weight="normal" stroke="#333" stroke-width="0.13">Autoantibodies</text>
<text transform="translate(272.60 218.40) scale(0.9386 1)" font-size="6.4" text-anchor="start" fill="#333" font-weight="normal" stroke="#333" stroke-width="0.13">Patient</text>
<text transform="translate(285.80 226.80) scale(0.8594 1)" font-size="6.4" text-anchor="start" fill="#333" font-weight="normal" stroke="#333" stroke-width="0.13">ID</text>
<text transform="translate(36.70 384.10) rotate(-45) scale(0.8600 1)" font-size="6.7" text-anchor="end" fill="#333" font-weight="normal" stroke="#333" stroke-width="0.13">Bleeding</text>
<text transform="translate(47.04 384.10) rotate(-45) scale(0.8600 1)" font-size="6.7" text-anchor="end" fill="#333" font-weight="normal" stroke="#333" stroke-width="0.13">Alopecia</text>
<text transform="translate(56.60 384.10) rotate(-45) scale(0.8600 1)" font-size="6.7" text-anchor="end" fill="#333" font-weight="normal" stroke="#333" stroke-width="0.13">aALPS</text>
<text transform="translate(66.16 384.10) rotate(-45) scale(0.8600 1)" font-size="6.7" text-anchor="end" fill="#333" font-weight="normal" stroke="#333" stroke-width="0.13">DLE</text>
<text transform="translate(75.72 384.10) rotate(-45) scale(0.8600 1)" font-size="6.7" text-anchor="end" fill="#333" font-weight="normal" stroke="#333" stroke-width="0.13">HT</text>
<text transform="translate(85.29 384.10) rotate(-45) scale(0.8600 1)" font-size="6.7" text-anchor="end" fill="#333" font-weight="normal" stroke="#333" stroke-width="0.13">RA</text>
<text transform="translate(94.85 384.10) rotate(-45) scale(0.8600 1)" font-size="6.7" text-anchor="end" fill="#333" font-weight="normal" stroke="#333" stroke-width="0.13">Vitiligo</text>
<text transform="translate(104.41 384.10) rotate(-45) scale(0.8600 1)" font-size="6.7" text-anchor="end" fill="#333" font-weight="normal" stroke="#333" stroke-width="0.13">aCL</text>
<text transform="translate(113.97 384.10) rotate(-45) scale(0.8600 1)" font-size="6.7" text-anchor="end" fill="#333" font-weight="normal" stroke="#333" stroke-width="0.13">AMA</text>
<text transform="translate(123.53 384.10) rotate(-45) scale(0.8600 1)" font-size="6.7" text-anchor="end" fill="#333" font-weight="normal" stroke="#333" stroke-width="0.13">ANA</text>
<text transform="translate(133.09 384.10) rotate(-45) scale(0.8600 1)" font-size="6.7" text-anchor="end" fill="#333" font-weight="normal" stroke="#333" stroke-width="0.13">B2GPI</text>
<text transform="translate(142.66 384.10) rotate(-45) scale(0.8600 1)" font-size="6.7" text-anchor="end" fill="#333" font-weight="normal" stroke="#333" stroke-width="0.13">C-ANCA</text>
<text transform="translate(152.22 384.10) rotate(-45) scale(0.8600 1)" font-size="6.7" text-anchor="end" fill="#333" font-weight="normal" stroke="#333" stroke-width="0.13">CCP</text>
<text transform="translate(161.78 384.10) rotate(-45) scale(0.8600 1)" font-size="6.7" text-anchor="end" fill="#333" font-weight="normal" stroke="#333" stroke-width="0.13">dsDNA</text>
<text transform="translate(171.34 384.10) rotate(-45) scale(0.8600 1)" font-size="6.7" text-anchor="end" fill="#333" font-weight="normal" stroke="#333" stroke-width="0.13">ENA</text>
<text transform="translate(180.91 384.10) rotate(-45) scale(0.8600 1)" font-size="6.7" text-anchor="end" fill="#333" font-weight="normal" stroke="#333" stroke-width="0.13">GPC</text>
<text transform="translate(190.47 384.10) rotate(-45) scale(0.8600 1)" font-size="6.7" text-anchor="end" fill="#333" font-weight="normal" stroke="#333" stroke-width="0.13">LKM</text>
<text transform="translate(200.03 384.10) rotate(-45) scale(0.8600 1)" font-size="6.7" text-anchor="end" fill="#333" font-weight="normal" stroke="#333" stroke-width="0.13">P-ANCA</text>
<text transform="translate(209.59 384.10) rotate(-45) scale(0.8600 1)" font-size="6.7" text-anchor="end" fill="#333" font-weight="normal" stroke="#333" stroke-width="0.13">Platelet</text>
<text transform="translate(219.15 384.10) rotate(-45) scale(0.8600 1)" font-size="6.7" text-anchor="end" fill="#333" font-weight="normal" stroke="#333" stroke-width="0.13">RF</text>
<text transform="translate(228.72 384.10) rotate(-45) scale(0.8600 1)" font-size="6.7" text-anchor="end" fill="#333" font-weight="normal" stroke="#333" stroke-width="0.13">Sm</text>
<text transform="translate(238.28 384.10) rotate(-45) scale(0.8600 1)" font-size="6.7" text-anchor="end" fill="#333" font-weight="normal" stroke="#333" stroke-width="0.13">TgAb</text>
<text transform="translate(247.84 384.10) rotate(-45) scale(0.8600 1)" font-size="6.7" text-anchor="end" fill="#333" font-weight="normal" stroke="#333" stroke-width="0.13">TPO</text>
<text transform="translate(257.40 384.10) rotate(-45) scale(0.8600 1)" font-size="6.7" text-anchor="end" fill="#333" font-weight="normal" stroke="#333" stroke-width="0.13">TRAb</text>
<text transform="translate(266.96 384.10) rotate(-45) scale(0.8600 1)" font-size="6.7" text-anchor="end" fill="#333" font-weight="normal" stroke="#333" stroke-width="0.13">TSI</text>
<text transform="translate(276.90 384.10) rotate(-45) scale(0.8600 1)" font-size="6.7" text-anchor="end" fill="#333" font-weight="normal" stroke="#333" stroke-width="0.13">Gender</text>
<rect x="88.2" y="404.3" width="8" height="5.4" fill="#fff" stroke="#d8d8d8" stroke-width="0.6"/>
<text transform="translate(100.20 408.60) scale(0.9371 1)" font-size="6.4" text-anchor="start" fill="#333" font-weight="normal" stroke="#333" stroke-width="0.13">Not present</text>
<rect x="143.2" y="404.3" width="7.6" height="5.4" fill="#ececec" stroke="#dedede" stroke-width="0.5"/>
<text transform="translate(154.60 408.60) scale(0.8769 1)" font-size="6.4" text-anchor="start" fill="#333" font-weight="normal" stroke="#333" stroke-width="0.13">Not assessed</text>
<rect x="200.2" y="403" width="6.8" height="6.6" fill="#bcd7ea"/>
<text transform="translate(209.80 408.60) scale(0.9372 1)" font-size="6.4" text-anchor="start" fill="#333" font-weight="normal" stroke="#333" stroke-width="0.13">Male</text>
<rect x="235.8" y="403" width="6.4" height="6.6" fill="#f8e08e"/>
<text transform="translate(245.40 408.60) scale(0.8716 1)" font-size="6.4" text-anchor="start" fill="#333" font-weight="normal" stroke="#333" stroke-width="0.13">Female</text>
<text transform="translate(324.40 255.90)" font-size="12.6" text-anchor="start" fill="#000" font-weight="bold" stroke="#000" stroke-width="0.55">E</text>
<line x1="375.60" y1="255.6" x2="375.60" y2="396.9" stroke="#ececec" stroke-width="0.6"/>
<line x1="396.40" y1="255.6" x2="396.40" y2="396.9" stroke="#ececec" stroke-width="0.6"/>
<line x1="417.20" y1="255.6" x2="417.20" y2="396.9" stroke="#ececec" stroke-width="0.6"/>
<line x1="458.80" y1="255.6" x2="458.80" y2="396.9" stroke="#ececec" stroke-width="0.6"/>
<line x1="479.60" y1="255.6" x2="479.60" y2="396.9" stroke="#ececec" stroke-width="0.6"/>
<line x1="500.40" y1="255.6" x2="500.40" y2="396.9" stroke="#ececec" stroke-width="0.6"/>
<line x1="363.5" y1="272.70" x2="512.4" y2="272.70" stroke="#ececec" stroke-width="0.6"/>
<line x1="363.5" y1="300.82" x2="512.4" y2="300.82" stroke="#ececec" stroke-width="0.6"/>
<line x1="363.5" y1="328.95" x2="512.4" y2="328.95" stroke="#ececec" stroke-width="0.6"/>
<line x1="363.5" y1="357.07" x2="512.4" y2="357.07" stroke="#ececec" stroke-width="0.6"/>
<line x1="363.5" y1="385.20" x2="512.4" y2="385.20" stroke="#ececec" stroke-width="0.6"/>
<path d="M438.00,282.00 L437.87,282.00 L437.87,284.00 L437.71,284.00 L437.71,286.00 L437.54,286.00 L437.54,288.00 L437.38,288.00 L437.38,290.00 L437.14,290.00 L437.14,292.00 L436.82,292.00 L436.82,294.00 L436.50,294.00 L436.50,296.00 L435.75,296.00 L435.75,298.00 L435.00,298.00 L435.00,300.00 L434.25,300.00 L434.25,302.00 L433.50,302.00 L433.50,304.00 L432.75,304.00 L432.75,306.00 L432.00,306.00 L432.00,308.00 L431.00,308.00 L431.00,310.00 L430.00,310.00 L430.00,312.00 L428.57,312.00 L428.57,314.00 L426.86,314.00 L426.86,316.00 L424.30,316.00 L424.30,318.00 L421.62,318.00 L421.62,320.00 L418.89,320.00 L418.89,322.00 L415.43,322.00 L415.43,324.00 L411.48,324.00 L411.48,326.00 L407.68,326.00 L407.68,328.00 L404.03,328.00 L404.03,330.00 L399.74,330.00 L399.74,332.00 L395.28,332.00 L395.28,334.00 L391.07,334.00 L391.07,336.00 L387.02,336.00 L387.02,338.00 L383.56,338.00 L383.56,340.00 L380.68,340.00 L380.68,342.00 L377.80,342.00 L377.80,344.00 L375.33,344.00 L375.33,346.00 L373.20,346.00 L373.20,348.00 L372.24,348.00 L372.24,350.00 L373.04,350.00 L373.04,352.00 L374.42,352.00 L374.42,354.00 L377.53,354.00 L377.53,356.00 L381.58,356.00 L381.58,358.00 L386.76,358.00 L386.76,360.00 L393.50,360.00 L393.50,362.00 L403.50,362.00 L403.50,364.00 L411.62,364.00 L411.62,366.00 L418.22,366.00 L418.22,368.00 L423.15,368.00 L423.15,370.00 L427.27,370.00 L427.27,372.00 L431.30,372.00 L431.30,374.00 L434.79,374.00 L434.79,376.00 L436.21,376.00 L436.21,378.00 L437.30,378.00 L437.30,380.00 L437.90,380.00 L437.90,380.20 L438.00,380.20 Z" fill="#cadeed"/>
<path d="M438.00,263.00 L438.44,263.00 L438.44,265.00 L438.52,265.00 L438.52,267.00 L438.61,267.00 L438.61,269.00 L438.69,269.00 L438.69,271.00 L438.77,271.00 L438.77,273.00 L438.86,273.00 L438.86,275.00 L438.96,275.00 L438.96,277.00 L439.08,277.00 L439.08,279.00 L439.20,279.00 L439.20,281.00 L439.40,281.00 L439.40,283.00 L439.60,283.00 L439.60,285.00 L439.80,285.00 L439.80,287.00 L440.00,287.00 L440.00,289.00 L440.60,289.00 L440.60,291.00 L441.20,291.00 L441.20,293.00 L442.25,293.00 L442.25,295.00 L443.38,295.00 L443.38,297.00 L444.12,297.00 L444.12,299.00 L445.02,299.00 L445.02,301.00 L446.08,301.00 L446.08,303.00 L447.45,303.00 L447.45,305.00 L449.15,305.00 L449.15,307.00 L450.75,307.00 L450.75,309.00 L452.25,309.00 L452.25,311.00 L453.83,311.00 L453.83,313.00 L455.50,313.00 L455.50,315.00 L458.70,315.00 L458.70,317.00 L461.19,317.00 L461.19,319.00 L463.45,319.00 L463.45,321.00 L465.77,321.00 L465.77,323.00 L469.26,323.00 L469.26,325.00 L472.48,325.00 L472.48,327.00 L475.44,327.00 L475.44,329.00 L478.41,329.00 L478.41,331.00 L482.38,331.00 L482.38,333.00 L486.39,333.00 L486.39,335.00 L490.05,335.00 L490.05,337.00 L492.57,337.00 L492.57,339.00 L494.32,339.00 L494.32,341.00 L494.05,341.00 L494.05,343.00 L492.46,343.00 L492.46,345.00 L492.01,345.00 L492.01,347.00 L490.01,347.00 L490.01,349.00 L487.11,349.00 L487.11,351.00 L483.77,351.00 L483.77,353.00 L483.18,353.00 L483.18,355.00 L477.40,355.00 L477.40,357.00 L470.31,357.00 L470.31,359.00 L464.10,359.00 L464.10,361.00 L458.46,361.00 L458.46,363.00 L453.50,363.00 L453.50,365.00 L448.54,365.00 L448.54,367.00 L444.83,367.00 L444.83,369.00 L442.08,369.00 L442.08,371.00 L440.00,371.00 L440.00,373.00 L438.79,373.00 L438.79,374.80 L438.00,374.80 Z" fill="#f8ea92"/>
<line x1="439.20" y1="268.00" x2="469.80" y2="268.00" stroke="#999999" stroke-width="0.7"/>
<rect x="438.30" y="267.10" width="1.8" height="1.8" fill="#111"/>
<line x1="406.10" y1="297.30" x2="436.80" y2="297.30" stroke="#999999" stroke-width="0.7"/>
<rect x="435.90" y="296.40" width="1.8" height="1.8" fill="#111"/>
<line x1="439.20" y1="308.70" x2="469.80" y2="308.70" stroke="#999999" stroke-width="0.7"/>
<rect x="438.30" y="307.80" width="1.8" height="1.8" fill="#111"/>
<line x1="439.20" y1="318.60" x2="469.80" y2="318.60" stroke="#999999" stroke-width="0.7"/>
<rect x="438.30" y="317.70" width="1.8" height="1.8" fill="#111"/>
<line x1="406.10" y1="341.60" x2="436.80" y2="341.60" stroke="#999999" stroke-width="0.7"/>
<rect x="435.90" y="340.70" width="1.8" height="1.8" fill="#111"/>
<line x1="439.20" y1="344.50" x2="469.80" y2="344.50" stroke="#e8acbf" stroke-width="0.55"/>
<rect x="438.30" y="343.60" width="1.8" height="1.8" fill="#d0507a"/>
<line x1="439.20" y1="349.60" x2="469.80" y2="349.60" stroke="#d2d2d2" stroke-width="2.2" opacity="0.65"/>
<line x1="439.20" y1="349.60" x2="469.80" y2="349.60" stroke="#999999" stroke-width="0.7"/>
<rect x="438.30" y="348.70" width="1.8" height="1.8" fill="#111"/>
<line x1="406.10" y1="354.40" x2="436.80" y2="354.40" stroke="#e8acbf" stroke-width="0.55"/>
<rect x="435.90" y="353.50" width="1.8" height="1.8" fill="#d0507a"/>
<line x1="406.10" y1="356.60" x2="436.80" y2="356.60" stroke="#d2d2d2" stroke-width="2.2" opacity="0.65"/>
<line x1="406.10" y1="356.60" x2="436.80" y2="356.60" stroke="#e8acbf" stroke-width="0.55"/>
<rect x="435.90" y="355.70" width="1.8" height="1.8" fill="#d0507a"/>
<line x1="406.10" y1="362.00" x2="436.80" y2="362.00" stroke="#d2d2d2" stroke-width="2.2" opacity="0.65"/>
<line x1="406.10" y1="362.00" x2="436.80" y2="362.00" stroke="#999999" stroke-width="0.7"/>
<rect x="435.90" y="361.10" width="1.8" height="1.8" fill="#111"/>
<line x1="406.10" y1="364.20" x2="436.80" y2="364.20" stroke="#999999" stroke-width="0.7"/>
<rect x="435.90" y="363.30" width="1.8" height="1.8" fill="#111"/>
<line x1="406.10" y1="366.40" x2="436.80" y2="366.40" stroke="#999999" stroke-width="0.7"/>
<rect x="435.90" y="365.50" width="1.8" height="1.8" fill="#111"/>
<line x1="439.20" y1="362.80" x2="469.80" y2="362.80" stroke="#d2d2d2" stroke-width="2.2" opacity="0.65"/>
<line x1="439.20" y1="362.80" x2="469.80" y2="362.80" stroke="#999999" stroke-width="0.7"/>
<rect x="438.30" y="361.90" width="1.8" height="1.8" fill="#111"/>
<line x1="439.20" y1="363.60" x2="469.80" y2="363.60" stroke="#e8acbf" stroke-width="0.55"/>
<rect x="438.30" y="362.70" width="1.8" height="1.8" fill="#d0507a"/>
<line x1="439.20" y1="368.30" x2="469.80" y2="368.30" stroke="#e8acbf" stroke-width="0.55"/>
<rect x="438.30" y="367.40" width="1.8" height="1.8" fill="#d0507a"/>
<line x1="406.10" y1="373.30" x2="436.80" y2="373.30" stroke="#d2d2d2" stroke-width="2.2" opacity="0.65"/>
<line x1="406.10" y1="373.30" x2="436.80" y2="373.30" stroke="#999999" stroke-width="0.7"/>
<rect x="435.90" y="372.40" width="1.8" height="1.8" fill="#111"/>
<line x1="439.20" y1="372.70" x2="469.80" y2="372.70" stroke="#d2d2d2" stroke-width="2.2" opacity="0.65"/>
<line x1="439.20" y1="372.70" x2="469.80" y2="372.70" stroke="#999999" stroke-width="0.7"/>
<rect x="438.30" y="371.80" width="1.8" height="1.8" fill="#111"/>
<line x1="439.20" y1="372.90" x2="469.80" y2="372.90" stroke="#e8acbf" stroke-width="0.55"/>
<rect x="438.30" y="372.00" width="1.8" height="1.8" fill="#d0507a"/>
<line x1="406.10" y1="377.80" x2="436.80" y2="377.80" stroke="#e8acbf" stroke-width="0.55"/>
<rect x="435.90" y="376.90" width="1.8" height="1.8" fill="#d0507a"/>
<line x1="439.20" y1="377.40" x2="469.80" y2="377.40" stroke="#d2d2d2" stroke-width="2.2" opacity="0.65"/>
<line x1="439.20" y1="377.40" x2="469.80" y2="377.40" stroke="#999999" stroke-width="0.7"/>
<rect x="438.30" y="376.50" width="1.8" height="1.8" fill="#111"/>
<line x1="439.20" y1="380.00" x2="469.80" y2="380.00" stroke="#d2d2d2" stroke-width="2.2" opacity="0.65"/>
<line x1="439.20" y1="380.00" x2="469.80" y2="380.00" stroke="#999999" stroke-width="0.7"/>
<rect x="438.30" y="379.10" width="1.8" height="1.8" fill="#111"/>
<line x1="439.20" y1="382.60" x2="469.80" y2="382.60" stroke="#d2d2d2" stroke-width="2.2" opacity="0.65"/>
<line x1="439.20" y1="382.60" x2="469.80" y2="382.60" stroke="#999999" stroke-width="0.7"/>
<rect x="438.30" y="381.70" width="1.8" height="1.8" fill="#111"/>
<line x1="406.10" y1="388.30" x2="436.80" y2="388.30" stroke="#e8acbf" stroke-width="0.55"/>
<rect x="435.90" y="387.40" width="1.8" height="1.8" fill="#d0507a"/>
<line x1="406.10" y1="390.50" x2="436.80" y2="390.50" stroke="#e8acbf" stroke-width="0.55"/>
<rect x="435.90" y="389.60" width="1.8" height="1.8" fill="#d0507a"/>
<rect x="363.5" y="255.6" width="148.90" height="141.30" fill="none" stroke="#111" stroke-width="1.3"/>
<line x1="360.50" y1="272.70" x2="363.5" y2="272.70" stroke="#111" stroke-width="0.9"/>
<text transform="translate(357.20 274.80)" font-size="6.0" text-anchor="end" fill="#333" font-weight="normal" stroke="#333" stroke-width="0.13">12.5</text>
<line x1="360.50" y1="300.82" x2="363.5" y2="300.82" stroke="#111" stroke-width="0.9"/>
<text transform="translate(357.20 302.93)" font-size="6.0" text-anchor="end" fill="#333" font-weight="normal" stroke="#333" stroke-width="0.13">10.0</text>
<line x1="360.50" y1="328.95" x2="363.5" y2="328.95" stroke="#111" stroke-width="0.9"/>
<text transform="translate(357.20 331.05)" font-size="6.0" text-anchor="end" fill="#333" font-weight="normal" stroke="#333" stroke-width="0.13">7.5</text>
<line x1="360.50" y1="357.07" x2="363.5" y2="357.07" stroke="#111" stroke-width="0.9"/>
<text transform="translate(357.20 359.18)" font-size="6.0" text-anchor="end" fill="#333" font-weight="normal" stroke="#333" stroke-width="0.13">5.0</text>
<line x1="360.50" y1="385.20" x2="363.5" y2="385.20" stroke="#111" stroke-width="0.9"/>
<text transform="translate(357.20 387.30)" font-size="6.0" text-anchor="end" fill="#333" font-weight="normal" stroke="#333" stroke-width="0.13">2.5</text>
<line x1="375.60" y1="396.9" x2="375.60" y2="399.9" stroke="#111" stroke-width="0.9"/>
<text transform="translate(375.60 408.20)" font-size="6.0" text-anchor="middle" fill="#333" font-weight="normal" stroke="#333" stroke-width="0.13">&#8722;0.3</text>
<line x1="396.40" y1="396.9" x2="396.40" y2="399.9" stroke="#111" stroke-width="0.9"/>
<text transform="translate(396.40 408.20)" font-size="6.0" text-anchor="middle" fill="#333" font-weight="normal" stroke="#333" stroke-width="0.13">&#8722;0.2</text>
<line x1="417.20" y1="396.9" x2="417.20" y2="399.9" stroke="#111" stroke-width="0.9"/>
<text transform="translate(417.20 408.20)" font-size="6.0" text-anchor="middle" fill="#333" font-weight="normal" stroke="#333" stroke-width="0.13">&#8722;0.1</text>
<line x1="438.00" y1="396.9" x2="438.00" y2="399.9" stroke="#111" stroke-width="0.9"/>
<text transform="translate(438.00 408.20)" font-size="6.0" text-anchor="middle" fill="#333" font-weight="normal" stroke="#333" stroke-width="0.13">0.0</text>
<line x1="458.80" y1="396.9" x2="458.80" y2="399.9" stroke="#111" stroke-width="0.9"/>
<text transform="translate(458.80 408.20)" font-size="6.0" text-anchor="middle" fill="#333" font-weight="normal" stroke="#333" stroke-width="0.13">0.1</text>
<line x1="479.60" y1="396.9" x2="479.60" y2="399.9" stroke="#111" stroke-width="0.9"/>
<text transform="translate(479.60 408.20)" font-size="6.0" text-anchor="middle" fill="#333" font-weight="normal" stroke="#333" stroke-width="0.13">0.2</text>
<line x1="500.40" y1="396.9" x2="500.40" y2="399.9" stroke="#111" stroke-width="0.9"/>
<text transform="translate(500.40 408.20)" font-size="6.0" text-anchor="middle" fill="#333" font-weight="normal" stroke="#333" stroke-width="0.13">0.3</text>
<text x="339.6" y="326" font-size="7.4" text-anchor="middle" fill="#2a2a2a" stroke="#2a2a2a" stroke-width="0.2" transform="rotate(-90 339.6 326)" textLength="81" lengthAdjust="spacingAndGlyphs">Total leukocyte count (10<tspan font-size="4.6" dy="-2.4">9</tspan><tspan dy="2.4">l</tspan><tspan font-size="4.6" dy="-2.4">&#8722;1</tspan><tspan dy="2.4">)</tspan></text>
<text x="438" y="423.4" font-size="7.4" text-anchor="middle" fill="#2a2a2a" stroke="#2a2a2a" stroke-width="0.2" textLength="73" lengthAdjust="spacingAndGlyphs">Probability density (10<tspan font-size="4.6" dy="-2.4">&#8722;9</tspan><tspan dy="2.4">l)</tspan></text>
<rect x="415.4" y="429.2" width="5.6" height="4.6" fill="#c7dcec"/>
<text transform="translate(424.60 433.80) scale(0.9012 1)" font-size="6.4" text-anchor="start" fill="#333" font-weight="normal" stroke="#333" stroke-width="0.13">Male</text>
<rect x="445.5" y="429.2" width="5.9" height="4.6" fill="#f6e58e"/>
<text transform="translate(453.80 433.80) scale(0.9091 1)" font-size="6.4" text-anchor="start" fill="#333" font-weight="normal" stroke="#333" stroke-width="0.13">Female</text>
<text transform="translate(376.10 272.10) scale(0.7583 1)" font-size="6.0" text-anchor="start" fill="#3a3a3a" font-weight="normal" stroke="#3a3a3a" stroke-width="0.06">BM fibrosis</text>
<line x1="376" y1="277.4" x2="390.5" y2="277.4" stroke="#dc8aa6" stroke-width="0.6"/>
<path d="M389.6,276.5 L391.6,277.4 L389.6,278.3 Z" fill="#c83c6a"/>
<text transform="translate(394.50 279.50) scale(0.7642 1)" font-size="6.0" text-anchor="start" fill="#3a3a3a" font-weight="normal" font-style="italic" stroke="#3a3a3a" stroke-width="0.06">Present</text>
<line x1="376" y1="284.1" x2="390.5" y2="284.1" stroke="#bdbdbd" stroke-width="1.6"/>
<rect x="390.2" y="283.2" width="1.9" height="1.9" fill="#111"/>
<text transform="translate(394.50 286.90) scale(0.8372 1)" font-size="6.0" text-anchor="start" fill="#3a3a3a" font-weight="normal" font-style="italic" stroke="#3a3a3a" stroke-width="0.06">Absent or</text>
<text transform="translate(394.50 292.80) scale(0.7841 1)" font-size="6.0" text-anchor="start" fill="#3a3a3a" font-weight="normal" font-style="italic" stroke="#3a3a3a" stroke-width="0.06">no BM biopsy</text>
<text transform="translate(432.00 264.00)" font-size="6.4" text-anchor="middle" fill="#333" font-weight="bold" stroke="#333" stroke-width="0.13">*</text>
<text transform="translate(443.50 264.00)" font-size="6.4" text-anchor="middle" fill="#333" font-weight="bold" stroke="#333" stroke-width="0.13">**</text>
<text transform="translate(7.40 437.30)" font-size="12.6" text-anchor="start" fill="#000" font-weight="bold" stroke="#000" stroke-width="0.55">F</text>
<rect x="58.00" y="435.4" width="41.0" height="14.00" fill="#d9d9d9" stroke="#111" stroke-width="1.3"/>
<rect x="59.10" y="436.50" width="38.80" height="11.80" fill="none" stroke="#f2f2f2" stroke-width="0.5"/>
<rect x="58.00" y="449.4" width="41.0" height="129.80" fill="#fff" stroke="#111" stroke-width="1.3"/>
<text transform="translate(78.50 445.20)" font-size="8.0" text-anchor="middle" fill="#1e1e1e" font-weight="normal" stroke="#1e1e1e" stroke-width="0.13">Rbc</text>
<line x1="58.80" y1="528.42" x2="98.20" y2="528.42" stroke="#000" stroke-width="0.95" stroke-dasharray="2.4,0.9,0.9,0.9"/>
<rect x="101.90" y="435.4" width="41.29999999999998" height="14.00" fill="#d9d9d9" stroke="#111" stroke-width="1.3"/>
<rect x="103.00" y="436.50" width="39.10" height="11.80" fill="none" stroke="#f2f2f2" stroke-width="0.5"/>
<rect x="101.90" y="449.4" width="41.29999999999998" height="129.80" fill="#fff" stroke="#111" stroke-width="1.3"/>
<text transform="translate(122.55 445.20)" font-size="8.0" text-anchor="middle" fill="#1e1e1e" font-weight="normal" stroke="#1e1e1e" stroke-width="0.13">Plt</text>
<line x1="102.70" y1="528.42" x2="142.40" y2="528.42" stroke="#000" stroke-width="0.95" stroke-dasharray="2.4,0.9,0.9,0.9"/>
<rect x="146.60" y="435.4" width="41.099999999999994" height="14.00" fill="#d9d9d9" stroke="#111" stroke-width="1.3"/>
<rect x="147.70" y="436.50" width="38.90" height="11.80" fill="none" stroke="#f2f2f2" stroke-width="0.5"/>
<rect x="146.60" y="449.4" width="41.099999999999994" height="129.80" fill="#fff" stroke="#111" stroke-width="1.3"/>
<text transform="translate(167.15 445.20)" font-size="8.0" text-anchor="middle" fill="#1e1e1e" font-weight="normal" stroke="#1e1e1e" stroke-width="0.13">Neut</text>
<line x1="147.40" y1="528.42" x2="186.90" y2="528.42" stroke="#000" stroke-width="0.95" stroke-dasharray="2.4,0.9,0.9,0.9"/>
<rect x="191.40" y="435.4" width="41.099999999999994" height="14.00" fill="#d9d9d9" stroke="#111" stroke-width="1.3"/>
<rect x="192.50" y="436.50" width="38.90" height="11.80" fill="none" stroke="#f2f2f2" stroke-width="0.5"/>
<rect x="191.40" y="449.4" width="41.099999999999994" height="129.80" fill="#fff" stroke="#111" stroke-width="1.3"/>
<text transform="translate(211.95 445.20)" font-size="8.0" text-anchor="middle" fill="#1e1e1e" font-weight="normal" stroke="#1e1e1e" stroke-width="0.13">Mono</text>
<line x1="192.20" y1="528.42" x2="231.70" y2="528.42" stroke="#000" stroke-width="0.95" stroke-dasharray="2.4,0.9,0.9,0.9"/>
<rect x="236.00" y="435.4" width="41.0" height="14.00" fill="#d9d9d9" stroke="#111" stroke-width="1.3"/>
<rect x="237.10" y="436.50" width="38.80" height="11.80" fill="none" stroke="#f2f2f2" stroke-width="0.5"/>
<rect x="236.00" y="449.4" width="41.0" height="129.80" fill="#fff" stroke="#111" stroke-width="1.3"/>
<text transform="translate(256.50 445.20)" font-size="8.0" text-anchor="middle" fill="#1e1e1e" font-weight="normal" stroke="#1e1e1e" stroke-width="0.13">Lymph</text>
<line x1="236.80" y1="528.42" x2="276.20" y2="528.42" stroke="#000" stroke-width="0.95" stroke-dasharray="2.4,0.9,0.9,0.9"/>
<rect x="279.80" y="435.4" width="40.80000000000001" height="14.00" fill="#d9d9d9" stroke="#111" stroke-width="1.3"/>
<rect x="280.90" y="436.50" width="38.60" height="11.80" fill="none" stroke="#f2f2f2" stroke-width="0.5"/>
<rect x="279.80" y="449.4" width="40.80000000000001" height="129.80" fill="#fff" stroke="#111" stroke-width="1.3"/>
<text transform="translate(300.20 445.20)" font-size="8.0" text-anchor="middle" fill="#1e1e1e" font-weight="normal" stroke="#1e1e1e" stroke-width="0.13">Eos</text>
<line x1="280.60" y1="528.42" x2="319.80" y2="528.42" stroke="#000" stroke-width="0.95" stroke-dasharray="2.4,0.9,0.9,0.9"/>
<rect x="325.20" y="435.4" width="41.0" height="14.00" fill="#d9d9d9" stroke="#111" stroke-width="1.3"/>
<rect x="326.30" y="436.50" width="38.80" height="11.80" fill="none" stroke="#f2f2f2" stroke-width="0.5"/>
<rect x="325.20" y="449.4" width="41.0" height="129.80" fill="#fff" stroke="#111" stroke-width="1.3"/>
<text transform="translate(345.70 445.20)" font-size="8.0" text-anchor="middle" fill="#1e1e1e" font-weight="normal" stroke="#1e1e1e" stroke-width="0.13">Baso</text>
<line x1="326.00" y1="528.42" x2="365.40" y2="528.42" stroke="#000" stroke-width="0.95" stroke-dasharray="2.4,0.9,0.9,0.9"/>
<line x1="54.40" y1="455.50" x2="57.60" y2="455.50" stroke="#111" stroke-width="0.8"/>
<text transform="translate(51.40 457.50)" font-size="5.6" text-anchor="end" fill="#333" font-weight="normal" stroke="#333" stroke-width="0.13">1.00</text>
<line x1="54.40" y1="511.55" x2="57.60" y2="511.55" stroke="#111" stroke-width="0.8"/>
<text transform="translate(51.40 513.55)" font-size="5.6" text-anchor="end" fill="#333" font-weight="normal" stroke="#333" stroke-width="0.13">0.10</text>
<line x1="54.40" y1="528.42" x2="57.60" y2="528.42" stroke="#111" stroke-width="0.8"/>
<text transform="translate(51.40 530.42)" font-size="5.6" text-anchor="end" fill="#333" font-weight="normal" stroke="#333" stroke-width="0.13">0.05</text>
<line x1="54.40" y1="567.60" x2="57.60" y2="567.60" stroke="#111" stroke-width="0.8"/>
<text transform="translate(51.40 569.60)" font-size="5.6" text-anchor="end" fill="#333" font-weight="normal" stroke="#333" stroke-width="0.13">0.01</text>
<text transform="translate(34.40 515.00) rotate(-90) scale(0.8398 1)" font-size="7.0" text-anchor="middle" fill="#333" font-weight="normal" stroke="#333" stroke-width="0.13">P value</text>
<text transform="translate(258.20 588.60) scale(0.8686 1)" font-size="7.4" text-anchor="end" fill="#333" font-weight="normal" stroke="#333" stroke-width="0.13">Complete blood count parameter</text>
<path d="M62.80,490.52 L68.40,490.52 L65.60,494.88 Z" fill="#6b56a8"/>
<path d="M74.70,514.91 L81.90,514.91 L78.30,509.29 Z" fill="#1f9c8e"/>
<path d="M88.40,504.38 L94.00,504.38 L91.20,500.02 Z" fill="#e8906c"/>
<path d="M105.30,571.33 L114.70,571.33 L110.00,578.67 Z" fill="#6b56a8"/>
<path d="M118.00,540.07 L127.40,540.07 L122.70,532.73 Z" fill="#1f9c8e"/>
<path d="M132.80,499.22 L138.40,499.22 L135.60,503.58 Z" fill="#e8906c"/>
<path d="M150.90,546.69 L158.10,546.69 L154.50,552.31 Z" fill="#6b56a8"/>
<path d="M164.10,489.89 L171.30,489.89 L167.70,495.51 Z" fill="#1f9c8e"/>
<path d="M176.40,537.09 L183.60,537.09 L180.00,542.71 Z" fill="#e8906c"/>
<path d="M194.30,546.73 L203.70,546.73 L199.00,554.07 Z" fill="#6b56a8"/>
<path d="M209.70,454.47 L213.10,454.47 L211.40,457.13 Z" fill="#1f9c8e"/>
<path d="M222.00,462.82 L227.60,462.82 L224.80,467.18 Z" fill="#e8906c"/>
<path d="M239.80,510.69 L247.00,510.69 L243.40,516.31 Z" fill="#6b56a8"/>
<path d="M253.60,457.18 L259.20,457.18 L256.40,452.82 Z" fill="#1f9c8e"/>
<path d="M266.50,461.18 L272.10,461.18 L269.30,456.82 Z" fill="#e8906c"/>
<path d="M285.10,462.32 L290.70,462.32 L287.90,466.68 Z" fill="#6b56a8"/>
<path d="M295.50,560.13 L304.90,560.13 L300.20,567.47 Z" fill="#1f9c8e"/>
<path d="M309.00,539.33 L318.40,539.33 L313.70,546.67 Z" fill="#e8906c"/>
<path d="M328.40,563.99 L335.60,563.99 L332.00,569.61 Z" fill="#6b56a8"/>
<path d="M341.60,491.19 L348.80,491.19 L345.20,496.81 Z" fill="#1f9c8e"/>
<text transform="translate(376.40 457.80) scale(0.7855 1)" font-size="6.6" text-anchor="start" fill="#2a2a2a" font-weight="normal" stroke="#2a2a2a" stroke-width="0.13">Parameter</text>
<path d="M378.8,462.00 L380.7,463.90 L378.8,465.80 L376.9,463.90 Z" fill="#6b56a8"/>
<text transform="translate(386.40 466.10) scale(0.8801 1)" font-size="6.6" text-anchor="start" fill="#2a2a2a" font-weight="normal" stroke="#2a2a2a" stroke-width="0.13">Count</text>
<path d="M378.8,470.10 L380.7,472.00 L378.8,473.90 L376.9,472.00 Z" fill="#1f9c8e"/>
<text transform="translate(386.40 474.20) scale(0.8618 1)" font-size="6.6" text-anchor="start" fill="#2a2a2a" font-weight="normal" stroke="#2a2a2a" stroke-width="0.13">Vol or FSC</text>
<path d="M378.8,478.20 L380.7,480.10 L378.8,482.00 L376.9,480.10 Z" fill="#e8906c"/>
<text transform="translate(386.40 482.30) scale(0.7663 1)" font-size="6.6" text-anchor="start" fill="#2a2a2a" font-weight="normal" stroke="#2a2a2a" stroke-width="0.13">SSC</text>
<text transform="translate(376.40 496.80) scale(0.8742 1)" font-size="6.6" text-anchor="start" fill="#2a2a2a" font-weight="normal" stroke="#2a2a2a" stroke-width="0.13">Standardized</text>
<text transform="translate(376.40 504.10) scale(0.8617 1)" font-size="6.6" text-anchor="start" fill="#2a2a2a" font-weight="normal" stroke="#2a2a2a" stroke-width="0.13">effect size</text>
<path d="M379.0,506.75 L379.75,507.50 L379.0,508.25 L378.25,507.50 Z" fill="#111"/>
<text transform="translate(386.40 509.70)" font-size="6.6" text-anchor="start" fill="#2a2a2a" font-weight="normal" stroke="#2a2a2a" stroke-width="0.13">0</text>
<path d="M379.0,514.20 L381.00,516.20 L379.0,518.20 L377.00,516.20 Z" fill="#111"/>
<text transform="translate(386.40 518.40)" font-size="6.6" text-anchor="start" fill="#2a2a2a" font-weight="normal" stroke="#2a2a2a" stroke-width="0.13">1</text>
<path d="M379.0,522.10 L381.70,524.80 L379.0,527.50 L376.30,524.80 Z" fill="#111"/>
<text transform="translate(386.40 527.00)" font-size="6.6" text-anchor="start" fill="#2a2a2a" font-weight="normal" stroke="#2a2a2a" stroke-width="0.13">2</text>
<path d="M379.0,530.10 L382.30,533.40 L379.0,536.70 L375.70,533.40 Z" fill="#111"/>
<text transform="translate(386.40 535.60)" font-size="6.6" text-anchor="start" fill="#2a2a2a" font-weight="normal" stroke="#2a2a2a" stroke-width="0.13">3</text>
<path d="M379.0,538.00 L383.00,542.00 L379.0,546.00 L375.00,542.00 Z" fill="#111"/>
<text transform="translate(386.40 544.20)" font-size="6.6" text-anchor="start" fill="#2a2a2a" font-weight="normal" stroke="#2a2a2a" stroke-width="0.13">4</text>
<text transform="translate(376.40 558.70) scale(0.8755 1)" font-size="6.6" text-anchor="start" fill="#2a2a2a" font-weight="normal" stroke="#2a2a2a" stroke-width="0.13">Direction</text>
<path d="M376.4,567.4 L382.2,567.4 L379.3,562.3 Z" fill="none" stroke="#111" stroke-width="0.8"/>
<text transform="translate(386.40 567.10) scale(0.8866 1)" font-size="6.6" text-anchor="start" fill="#2a2a2a" font-weight="normal" stroke="#2a2a2a" stroke-width="0.13">Higher in GPS</text>
<path d="M376.4,570.5 L382.2,570.5 L379.3,575.6 Z" fill="none" stroke="#111" stroke-width="0.8"/>
<text transform="translate(386.40 575.20) scale(0.8596 1)" font-size="6.6" text-anchor="start" fill="#2a2a2a" font-weight="normal" stroke="#2a2a2a" stroke-width="0.13">Lower in GPS</text>
<rect x="0.6" y="0.6" width="518.8" height="597.8" fill="none" stroke="#000" stroke-width="1.4"/>
</svg>
</body></html>
